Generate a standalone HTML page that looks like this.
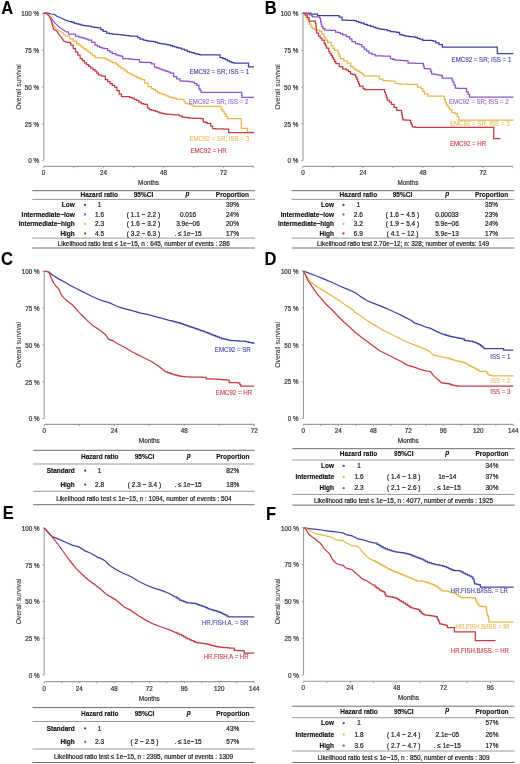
<!DOCTYPE html>
<html><head><meta charset="utf-8"><style>
html,body{margin:0;padding:0;background:#fff;}
body{width:520px;height:764px;overflow:hidden;}
svg{display:block;font-family:"Liberation Sans", sans-serif;filter:blur(0.3px);}
</style></head><body>
<svg width="520" height="764" viewBox="0 0 520 764">
<rect width="520" height="764" fill="#fff"/>
<text x="0" y="0" font-size="17.9" font-weight="bold" fill="#000" stroke="#000" stroke-width="0.1" transform="translate(1.30,13.60) scale(0.92,1)">A</text>
<line x1="43.75" y1="13.60" x2="43.75" y2="160.60" stroke="#9c9c9c" stroke-width="1.1"/>
<line x1="41.80" y1="13.60" x2="43.60" y2="13.60" stroke="#9c9c9c" stroke-width="0.9"/>
<text x="0" y="0" transform="translate(39.00,16.40) scale(1,1.12)" font-size="6.3" text-anchor="end" font-weight="normal" font-style="normal" fill="#3a3a3a" stroke="#3a3a3a" stroke-width="0.22" >100 %</text>
<line x1="41.80" y1="50.35" x2="43.60" y2="50.35" stroke="#9c9c9c" stroke-width="0.9"/>
<text x="0" y="0" transform="translate(39.00,53.15) scale(1,1.12)" font-size="6.3" text-anchor="end" font-weight="normal" font-style="normal" fill="#3a3a3a" stroke="#3a3a3a" stroke-width="0.22" >75 %</text>
<line x1="41.80" y1="87.10" x2="43.60" y2="87.10" stroke="#9c9c9c" stroke-width="0.9"/>
<text x="0" y="0" transform="translate(39.00,89.90) scale(1,1.12)" font-size="6.3" text-anchor="end" font-weight="normal" font-style="normal" fill="#3a3a3a" stroke="#3a3a3a" stroke-width="0.22" >50 %</text>
<line x1="41.80" y1="123.85" x2="43.60" y2="123.85" stroke="#9c9c9c" stroke-width="0.9"/>
<text x="0" y="0" transform="translate(39.00,126.65) scale(1,1.12)" font-size="6.3" text-anchor="end" font-weight="normal" font-style="normal" fill="#3a3a3a" stroke="#3a3a3a" stroke-width="0.22" >25 %</text>
<line x1="41.80" y1="160.60" x2="43.60" y2="160.60" stroke="#9c9c9c" stroke-width="0.9"/>
<text x="0" y="0" transform="translate(39.00,163.40) scale(1,1.12)" font-size="6.3" text-anchor="end" font-weight="normal" font-style="normal" fill="#3a3a3a" stroke="#3a3a3a" stroke-width="0.22" >0 %</text>
<text x="0" y="0" font-size="6.7" text-anchor="middle" fill="#3a3a3a" stroke="#3a3a3a" stroke-width="0.1" transform="translate(20.70,87.00) rotate(-90)">Overall survival</text>
<line x1="43.60" y1="166.40" x2="253.60" y2="166.40" stroke="#9c9c9c" stroke-width="1.1"/>
<line x1="43.60" y1="166.40" x2="43.60" y2="168.20" stroke="#9c9c9c" stroke-width="0.9"/>
<text x="0" y="0" transform="translate(43.60,175.40) scale(1,1.12)" font-size="6.3" text-anchor="middle" font-weight="normal" font-style="normal" fill="#3a3a3a" stroke="#3a3a3a" stroke-width="0.22" >0</text>
<line x1="73.60" y1="166.40" x2="73.60" y2="168.20" stroke="#9c9c9c" stroke-width="0.9"/>
<line x1="103.60" y1="166.40" x2="103.60" y2="168.20" stroke="#9c9c9c" stroke-width="0.9"/>
<text x="0" y="0" transform="translate(103.60,175.40) scale(1,1.12)" font-size="6.3" text-anchor="middle" font-weight="normal" font-style="normal" fill="#3a3a3a" stroke="#3a3a3a" stroke-width="0.22" >24</text>
<line x1="133.60" y1="166.40" x2="133.60" y2="168.20" stroke="#9c9c9c" stroke-width="0.9"/>
<line x1="163.60" y1="166.40" x2="163.60" y2="168.20" stroke="#9c9c9c" stroke-width="0.9"/>
<text x="0" y="0" transform="translate(163.60,175.40) scale(1,1.12)" font-size="6.3" text-anchor="middle" font-weight="normal" font-style="normal" fill="#3a3a3a" stroke="#3a3a3a" stroke-width="0.22" >48</text>
<line x1="193.60" y1="166.40" x2="193.60" y2="168.20" stroke="#9c9c9c" stroke-width="0.9"/>
<line x1="223.60" y1="166.40" x2="223.60" y2="168.20" stroke="#9c9c9c" stroke-width="0.9"/>
<text x="0" y="0" transform="translate(223.60,175.40) scale(1,1.12)" font-size="6.3" text-anchor="middle" font-weight="normal" font-style="normal" fill="#3a3a3a" stroke="#3a3a3a" stroke-width="0.22" >72</text>
<line x1="253.60" y1="166.40" x2="253.60" y2="168.20" stroke="#9c9c9c" stroke-width="0.9"/>
<text x="0" y="0" transform="translate(148.60,185.34) scale(1,1.12)" font-size="6.4" text-anchor="middle" font-weight="normal" font-style="normal" fill="#3a3a3a" stroke="#3a3a3a" stroke-width="0.22" >Months</text>
<path d="M43.60,13.20 L47.80,13.20 L51.20,14.00 L54.70,14.60 L57.00,16.30 L60.50,17.80 L65.10,19.80 L69.70,21.50 L72.00,21.50 L72.00,22.40 L74.30,22.40 L74.30,23.30 L76.60,23.30 L76.60,23.85 L78.90,23.85 L78.90,24.40 L81.20,24.40 L81.20,25.00 L83.50,25.00 L83.50,25.60 L85.85,25.60 L85.85,25.90 L88.20,25.90 L88.20,26.20 L91.05,26.20 L91.05,26.75 L93.90,26.75 L93.90,27.30 L96.20,27.30 L96.20,27.60 L98.50,27.60 L98.50,27.90 L100.80,27.90 L100.80,29.60 L103.10,29.60 L103.10,31.30 L106.50,31.30 L106.50,33.10 L109.40,33.10 L109.40,33.55 L112.30,33.55 L112.30,34.00 L115.20,34.00 L115.20,34.25 L118.10,34.25 L118.10,34.50 L120.95,34.50 L120.95,34.95 L123.80,34.95 L123.80,35.40 L126.70,35.40 L126.70,35.70 L129.60,35.70 L129.60,36.00 L135.40,36.00 L137.70,36.00 L137.70,37.70 L140.00,37.70 L140.00,39.10 L143.50,39.10 L143.50,40.00 L145.80,40.00 L145.80,40.60 L148.10,40.60 L148.10,41.20 L150.80,41.20 L150.80,41.45 L153.50,41.45 L153.50,41.70 L155.60,41.70 L155.60,42.45 L157.70,42.45 L157.70,43.20 L159.80,43.20 L159.80,43.50 L161.90,43.50 L161.90,43.80 L164.03,43.80 L164.03,44.17 L166.17,44.17 L166.17,44.53 L168.30,44.53 L168.30,44.90 L170.40,44.90 L170.40,45.65 L172.50,45.65 L172.50,46.40 L174.60,46.40 L174.60,46.97 L176.70,46.97 L176.70,47.53 L178.80,47.53 L178.80,48.10 L181.63,48.10 L181.63,49.17 L184.47,49.17 L184.47,50.23 L187.30,50.23 L187.30,51.30 L189.43,51.30 L189.43,52.00 L191.57,52.00 L191.57,52.70 L193.70,52.70 L193.70,53.40 L195.80,53.40 L195.80,53.87 L197.90,53.87 L197.90,54.33 L200.00,54.33 L200.00,54.80 L216.90,54.80 L220.10,54.80 L220.10,57.60 L222.75,57.60 L222.75,58.65 L225.40,58.65 L225.40,59.70 L227.50,59.70 L227.50,60.75 L229.60,60.75 L229.60,61.80 L231.75,61.80 L231.75,62.50 L233.90,62.50 L233.90,63.20 L247.50,63.20 L248.50,63.20 L248.50,66.90 L253.90,66.90" fill="none" stroke="#4242a6" stroke-width="1.25" stroke-linejoin="miter"/>
<path d="M43.60,13.20 L46.60,13.20 L49.50,16.00 L51.50,18.50 L53.00,20.70 L55.00,23.20 L59.30,27.30 L62.80,29.60 L66.20,31.90 L68.50,31.90 L68.50,34.00 L70.85,34.00 L70.85,34.10 L73.20,34.10 L73.20,34.20 L75.50,34.20 L75.50,36.00 L78.90,36.00 L78.90,37.10 L81.20,37.10 L81.20,37.70 L83.50,37.70 L83.50,38.30 L85.85,38.30 L85.85,39.15 L88.20,39.15 L88.20,40.00 L91.60,40.00 L91.60,42.30 L95.10,42.30 L95.10,45.20 L97.35,45.20 L97.35,46.25 L99.60,46.25 L99.60,47.30 L101.90,47.30 L101.90,48.00 L104.20,48.00 L104.20,48.70 L107.70,48.70 L107.70,50.60 L110.00,50.60 L110.00,52.10 L112.30,52.10 L112.30,53.60 L115.80,53.60 L115.80,54.80 L118.10,54.80 L118.10,55.50 L120.40,55.50 L120.40,56.20 L122.70,56.20 L122.70,58.50 L125.00,58.50 L125.00,58.60 L127.30,58.60 L127.30,58.70 L129.60,58.70 L129.60,59.05 L131.90,59.05 L131.90,59.40 L134.20,59.40 L134.20,59.50 L136.50,59.50 L136.50,59.60 L139.40,59.60 L139.40,62.20 L141.85,62.20 L141.85,62.28 L144.30,62.28 L144.30,62.35 L146.75,62.35 L146.75,62.42 L149.20,62.42 L149.20,62.50 L151.50,62.50 L151.50,63.80 L154.50,63.80 L154.50,67.00 L157.15,67.00 L157.15,68.10 L159.80,68.10 L159.80,69.20 L161.93,69.20 L161.93,69.90 L164.07,69.90 L164.07,70.60 L166.20,70.60 L166.20,71.30 L168.30,71.30 L168.30,72.15 L170.40,72.15 L170.40,73.00 L173.60,73.00 L173.60,76.60 L176.70,76.60 L176.70,78.80 L179.90,78.80 L179.90,80.90 L182.00,80.90 L182.00,81.00 L184.10,81.00 L184.10,81.10 L186.93,81.10 L186.93,81.43 L189.77,81.43 L189.77,81.77 L192.60,81.77 L192.60,82.10 L194.70,82.10 L194.70,83.70 L196.80,83.70 L196.80,85.30 L198.90,85.30 L198.90,88.50 L200.00,88.50 L200.00,90.40 L201.10,90.40 L201.10,92.30 L241.50,92.30 L241.75,92.30 L241.75,94.80 L242.00,94.80 L242.00,97.30 L254.00,97.30" fill="none" stroke="#8f54cc" stroke-width="1.25" stroke-linejoin="miter"/>
<path d="M43.60,13.20 L47.80,14.00 L50.10,16.90 L51.80,21.50 L53.50,25.00 L55.80,28.50 L59.30,30.80 L62.80,33.10 L66.20,36.00 L69.70,36.00 L69.70,38.80 L73.20,38.80 L73.20,41.20 L76.60,41.20 L76.60,43.50 L78.90,43.50 L78.90,45.20 L81.20,45.20 L81.20,46.90 L83.50,46.90 L83.50,48.65 L85.80,48.65 L85.80,50.40 L88.15,50.40 L88.15,52.10 L90.50,52.10 L90.50,53.80 L92.50,53.80 L92.50,55.50 L95.00,55.50 L95.00,57.60 L97.70,57.60 L97.70,57.70 L100.40,57.70 L100.40,57.80 L103.10,57.80 L103.10,57.90 L105.40,57.90 L105.40,59.05 L107.70,59.05 L107.70,60.20 L110.00,60.20 L110.00,61.35 L112.30,61.35 L112.30,62.50 L115.80,62.50 L115.80,64.00 L118.10,64.00 L118.10,66.30 L120.40,66.30 L120.40,67.75 L122.70,67.75 L122.70,69.20 L125.00,69.20 L125.00,70.85 L127.30,70.85 L127.30,72.50 L129.60,72.50 L129.60,73.75 L131.90,73.75 L131.90,75.00 L134.20,75.00 L134.20,76.15 L136.50,76.15 L136.50,77.30 L138.85,77.30 L138.85,78.45 L141.20,78.45 L141.20,79.60 L144.60,79.60 L144.60,83.10 L148.10,83.10 L148.10,86.50 L151.50,86.50 L151.50,88.50 L153.50,88.50 L153.50,89.50 L155.60,89.50 L155.60,91.10 L157.70,91.10 L157.70,92.70 L159.80,92.70 L159.80,93.40 L161.90,93.40 L161.90,94.10 L164.00,94.10 L164.00,94.80 L166.15,94.80 L166.15,95.85 L168.30,95.85 L168.30,96.90 L171.10,96.90 L171.10,97.60 L173.90,97.60 L173.90,98.30 L176.70,98.30 L176.70,99.00 L178.83,99.00 L178.83,99.17 L180.97,99.17 L180.97,99.33 L183.10,99.33 L183.10,99.50 L184.15,99.50 L184.15,101.40 L185.20,101.40 L185.20,103.30 L187.30,103.30 L187.30,103.87 L189.40,103.87 L189.40,104.43 L191.50,104.43 L191.50,105.00 L193.70,105.00 L193.70,106.40 L219.00,106.40 L221.20,106.40 L221.20,109.60 L222.75,109.60 L222.75,111.70 L224.30,111.70 L224.30,113.80 L225.90,113.80 L225.90,116.25 L227.50,116.25 L227.50,118.70 L238.10,118.70 L241.30,118.70 L241.30,122.30 L241.30,128.30 L247.50,128.30 L247.50,132.30 L254.00,132.30" fill="none" stroke="#e6b84a" stroke-width="1.25" stroke-linejoin="miter"/>
<path d="M43.60,13.20 L46.60,13.50 L48.90,15.80 L51.20,20.40 L52.40,25.00 L53.50,29.00 L57.00,31.30 L59.30,34.80 L61.60,37.70 L63.90,41.20 L67.40,42.30 L69.70,42.30 L69.70,42.90 L70.80,42.90 L70.80,45.20 L73.20,45.20 L73.20,48.70 L75.50,48.70 L75.50,52.10 L77.80,52.10 L77.80,55.00 L80.10,55.00 L80.10,58.50 L82.25,58.50 L82.25,60.70 L84.40,60.70 L84.40,62.90 L86.53,62.90 L86.53,64.67 L88.67,64.67 L88.67,66.43 L90.80,66.43 L90.80,68.20 L92.90,68.20 L92.90,69.60 L95.00,69.60 L95.00,71.00 L96.75,71.00 L96.75,73.00 L98.50,73.00 L98.50,75.00 L101.90,75.00 L101.90,76.20 L105.40,76.20 L105.40,79.60 L107.70,79.60 L107.70,81.65 L110.00,81.65 L110.00,83.70 L112.30,83.70 L112.30,85.40 L114.60,85.40 L114.60,87.10 L116.90,87.10 L116.90,90.60 L119.20,90.60 L119.20,94.00 L121.50,94.00 L121.50,96.50 L124.40,96.50 L124.40,96.60 L127.30,96.60 L127.30,96.70 L129.60,96.70 L129.60,97.40 L131.90,97.40 L131.90,98.10 L134.20,98.10 L134.20,99.25 L136.50,99.25 L136.50,100.40 L138.85,100.40 L138.85,102.00 L141.20,102.00 L141.20,103.60 L143.50,103.60 L143.50,104.00 L145.80,104.00 L145.80,104.40 L147.50,104.40 L147.50,107.90 L149.20,107.90 L149.20,109.60 L151.35,109.60 L151.35,110.15 L153.50,110.15 L153.50,110.70 L155.60,110.70 L155.60,111.40 L157.70,111.40 L157.70,112.10 L159.80,112.10 L159.80,112.80 L161.93,112.80 L161.93,113.30 L164.07,113.30 L164.07,113.80 L166.20,113.80 L166.20,114.30 L168.82,114.30 L168.82,114.45 L171.45,114.45 L171.45,114.60 L174.07,114.60 L174.07,114.75 L176.70,114.75 L176.70,114.90 L179.35,114.90 L179.35,115.95 L182.00,115.95 L182.00,117.00 L184.47,117.00 L184.47,117.37 L186.93,117.37 L186.93,117.73 L189.40,117.73 L189.40,118.10 L191.74,118.10 L191.74,118.18 L194.08,118.18 L194.08,118.26 L196.42,118.26 L196.42,118.34 L198.76,118.34 L198.76,118.42 L201.10,118.42 L201.10,118.50 L203.20,118.50 L203.20,121.90 L205.30,121.90 L205.30,122.65 L207.40,122.65 L207.40,123.40 L210.60,123.40 L210.60,126.10 L212.70,126.10 L212.70,128.70 L215.44,128.70 L215.44,128.78 L218.18,128.78 L218.18,128.86 L220.92,128.86 L220.92,128.94 L223.66,128.94 L223.66,129.02 L226.40,129.02 L226.40,129.10 L228.60,129.10 L228.60,132.70 L254.00,132.70" fill="none" stroke="#c63c46" stroke-width="1.25" stroke-linejoin="miter"/>
<text x="0" y="0" transform="translate(189.40,74.44) scale(1,1.12)" font-size="6.15" text-anchor="start" font-weight="normal" font-style="normal" fill="#4848a8" stroke="#4848a8" stroke-width="0.12" >EMC92 = SR; ISS = 1</text>
<text x="0" y="0" transform="translate(188.70,104.04) scale(1,1.12)" font-size="6.15" text-anchor="start" font-weight="normal" font-style="normal" fill="#9a66d4" stroke="#9a66d4" stroke-width="0.12" >EMC92 = SR; ISS = 2</text>
<text x="0" y="0" transform="translate(189.40,141.24) scale(1,1.12)" font-size="6.15" text-anchor="start" font-weight="normal" font-style="normal" fill="#e6bc5c" stroke="#e6bc5c" stroke-width="0.12" >EMC92 = SR; ISS = 3</text>
<text x="0" y="0" transform="translate(190.40,152.84) scale(1,1.12)" font-size="6.15" text-anchor="start" font-weight="normal" font-style="normal" fill="#c84450" stroke="#c84450" stroke-width="0.12" >EMC92 = HR</text>
<line x1="32.30" y1="190.70" x2="255.10" y2="190.70" stroke="#6e6e6e" stroke-width="1"/>
<line x1="32.30" y1="199.40" x2="255.10" y2="199.40" stroke="#9a9a9a" stroke-width="1"/>
<line x1="32.30" y1="238.10" x2="255.10" y2="238.10" stroke="#9a9a9a" stroke-width="1"/>
<line x1="32.30" y1="248.00" x2="255.10" y2="248.00" stroke="#6e6e6e" stroke-width="1"/>
<text x="0" y="0" transform="translate(80.50,197.18) scale(1,1.12)" font-size="6.5" text-anchor="start" font-weight="bold" font-style="normal" fill="#111" stroke="#111" stroke-width="0.12" >Hazard ratio</text>
<text x="0" y="0" transform="translate(143.50,197.18) scale(1,1.12)" font-size="6.5" text-anchor="middle" font-weight="bold" font-style="normal" fill="#111" stroke="#111" stroke-width="0.12" >95%CI</text>
<text x="0" y="0" transform="translate(187.50,195.88) scale(1,1.12)" font-size="6.5" text-anchor="middle" font-weight="bold" font-style="italic" fill="#111" stroke="#111" stroke-width="0.12" >p</text>
<text x="0" y="0" transform="translate(232.40,197.18) scale(1,1.12)" font-size="6.5" text-anchor="middle" font-weight="bold" font-style="normal" fill="#111" stroke="#111" stroke-width="0.12" >Proportion</text>
<text x="0" y="0" transform="translate(74.80,207.28) scale(1,1.12)" font-size="6.5" text-anchor="end" font-weight="bold" font-style="normal" fill="#111" stroke="#111" stroke-width="0.14" >Low</text>
<circle cx="85.10" cy="205.00" r="1.15" fill="#4242a6"/>
<text x="0" y="0" transform="translate(99.60,207.28) scale(1,1.12)" font-size="6.5" text-anchor="middle" font-weight="normal" font-style="normal" fill="#222" stroke="#222" stroke-width="0.2" >1</text>
<text x="0" y="0" transform="translate(232.40,207.28) scale(1,1.12)" font-size="6.5" text-anchor="middle" font-weight="normal" font-style="normal" fill="#222" stroke="#222" stroke-width="0.2" >39%</text>
<text x="0" y="0" transform="translate(74.80,216.78) scale(1,1.12)" font-size="6.5" text-anchor="end" font-weight="bold" font-style="normal" fill="#111" stroke="#111" stroke-width="0.14" >Intermediate−low</text>
<circle cx="85.10" cy="214.50" r="1.15" fill="#8f54cc"/>
<text x="0" y="0" transform="translate(99.60,216.78) scale(1,1.12)" font-size="6.5" text-anchor="middle" font-weight="normal" font-style="normal" fill="#222" stroke="#222" stroke-width="0.2" >1.6</text>
<text x="0" y="0" transform="translate(143.50,216.78) scale(1,1.12)" font-size="6.5" text-anchor="middle" font-weight="normal" font-style="normal" fill="#222" stroke="#222" stroke-width="0.2" >( 1.1 − 2.2 )</text>
<text x="0" y="0" transform="translate(188.00,216.78) scale(1,1.12)" font-size="6.5" text-anchor="middle" font-weight="normal" font-style="normal" fill="#222" stroke="#222" stroke-width="0.2" >0.016</text>
<text x="0" y="0" transform="translate(232.40,216.78) scale(1,1.12)" font-size="6.5" text-anchor="middle" font-weight="normal" font-style="normal" fill="#222" stroke="#222" stroke-width="0.2" >24%</text>
<text x="0" y="0" transform="translate(74.80,226.28) scale(1,1.12)" font-size="6.5" text-anchor="end" font-weight="bold" font-style="normal" fill="#111" stroke="#111" stroke-width="0.14" >Intermediate−high</text>
<circle cx="85.10" cy="224.00" r="1.15" fill="#e6b84a"/>
<text x="0" y="0" transform="translate(99.60,226.28) scale(1,1.12)" font-size="6.5" text-anchor="middle" font-weight="normal" font-style="normal" fill="#222" stroke="#222" stroke-width="0.2" >2.3</text>
<text x="0" y="0" transform="translate(143.50,226.28) scale(1,1.12)" font-size="6.5" text-anchor="middle" font-weight="normal" font-style="normal" fill="#222" stroke="#222" stroke-width="0.2" >( 1.6 − 3.2 )</text>
<text x="0" y="0" transform="translate(188.00,226.28) scale(1,1.12)" font-size="6.5" text-anchor="middle" font-weight="normal" font-style="normal" fill="#222" stroke="#222" stroke-width="0.2" >3.9e−06</text>
<text x="0" y="0" transform="translate(232.40,226.28) scale(1,1.12)" font-size="6.5" text-anchor="middle" font-weight="normal" font-style="normal" fill="#222" stroke="#222" stroke-width="0.2" >20%</text>
<text x="0" y="0" transform="translate(74.80,235.78) scale(1,1.12)" font-size="6.5" text-anchor="end" font-weight="bold" font-style="normal" fill="#111" stroke="#111" stroke-width="0.14" >High</text>
<circle cx="85.10" cy="233.50" r="1.15" fill="#c63c46"/>
<text x="0" y="0" transform="translate(99.60,235.78) scale(1,1.12)" font-size="6.5" text-anchor="middle" font-weight="normal" font-style="normal" fill="#222" stroke="#222" stroke-width="0.2" >4.5</text>
<text x="0" y="0" transform="translate(143.50,235.78) scale(1,1.12)" font-size="6.5" text-anchor="middle" font-weight="normal" font-style="normal" fill="#222" stroke="#222" stroke-width="0.2" >( 3.2 − 6.3 )</text>
<text x="0" y="0" transform="translate(188.00,235.78) scale(1,1.12)" font-size="6.5" text-anchor="middle" font-weight="normal" font-style="normal" fill="#222" stroke="#222" stroke-width="0.2" >. ≤ 1e−15</text>
<text x="0" y="0" transform="translate(232.40,235.78) scale(1,1.12)" font-size="6.5" text-anchor="middle" font-weight="normal" font-style="normal" fill="#222" stroke="#222" stroke-width="0.2" >17%</text>
<text x="0" y="0" transform="translate(143.70,245.74) scale(1,1.12)" font-size="6.4" text-anchor="middle" font-weight="normal" font-style="normal" fill="#222" stroke="#222" stroke-width="0.2" >Likelihood ratio test ≤ 1e−15, n : 645, number of events : 286</text>
<text x="0" y="0" font-size="17.9" font-weight="bold" fill="#000" stroke="#000" stroke-width="0.1" transform="translate(264.70,13.50) scale(0.92,1)">B</text>
<line x1="303.05" y1="13.60" x2="303.05" y2="160.60" stroke="#9c9c9c" stroke-width="1.1"/>
<line x1="301.10" y1="13.60" x2="302.90" y2="13.60" stroke="#9c9c9c" stroke-width="0.9"/>
<text x="0" y="0" transform="translate(298.30,16.40) scale(1,1.12)" font-size="6.3" text-anchor="end" font-weight="normal" font-style="normal" fill="#3a3a3a" stroke="#3a3a3a" stroke-width="0.22" >100 %</text>
<line x1="301.10" y1="50.35" x2="302.90" y2="50.35" stroke="#9c9c9c" stroke-width="0.9"/>
<text x="0" y="0" transform="translate(298.30,53.15) scale(1,1.12)" font-size="6.3" text-anchor="end" font-weight="normal" font-style="normal" fill="#3a3a3a" stroke="#3a3a3a" stroke-width="0.22" >75 %</text>
<line x1="301.10" y1="87.10" x2="302.90" y2="87.10" stroke="#9c9c9c" stroke-width="0.9"/>
<text x="0" y="0" transform="translate(298.30,89.90) scale(1,1.12)" font-size="6.3" text-anchor="end" font-weight="normal" font-style="normal" fill="#3a3a3a" stroke="#3a3a3a" stroke-width="0.22" >50 %</text>
<line x1="301.10" y1="123.85" x2="302.90" y2="123.85" stroke="#9c9c9c" stroke-width="0.9"/>
<text x="0" y="0" transform="translate(298.30,126.65) scale(1,1.12)" font-size="6.3" text-anchor="end" font-weight="normal" font-style="normal" fill="#3a3a3a" stroke="#3a3a3a" stroke-width="0.22" >25 %</text>
<line x1="301.10" y1="160.60" x2="302.90" y2="160.60" stroke="#9c9c9c" stroke-width="0.9"/>
<text x="0" y="0" transform="translate(298.30,163.40) scale(1,1.12)" font-size="6.3" text-anchor="end" font-weight="normal" font-style="normal" fill="#3a3a3a" stroke="#3a3a3a" stroke-width="0.22" >0 %</text>
<text x="0" y="0" font-size="6.7" text-anchor="middle" fill="#3a3a3a" stroke="#3a3a3a" stroke-width="0.1" transform="translate(280.00,87.00) rotate(-90)">Overall survival</text>
<line x1="302.90" y1="166.40" x2="512.90" y2="166.40" stroke="#9c9c9c" stroke-width="1.1"/>
<line x1="302.90" y1="166.40" x2="302.90" y2="168.20" stroke="#9c9c9c" stroke-width="0.9"/>
<text x="0" y="0" transform="translate(302.90,175.40) scale(1,1.12)" font-size="6.3" text-anchor="middle" font-weight="normal" font-style="normal" fill="#3a3a3a" stroke="#3a3a3a" stroke-width="0.22" >0</text>
<line x1="332.90" y1="166.40" x2="332.90" y2="168.20" stroke="#9c9c9c" stroke-width="0.9"/>
<line x1="362.90" y1="166.40" x2="362.90" y2="168.20" stroke="#9c9c9c" stroke-width="0.9"/>
<text x="0" y="0" transform="translate(362.90,175.40) scale(1,1.12)" font-size="6.3" text-anchor="middle" font-weight="normal" font-style="normal" fill="#3a3a3a" stroke="#3a3a3a" stroke-width="0.22" >24</text>
<line x1="392.90" y1="166.40" x2="392.90" y2="168.20" stroke="#9c9c9c" stroke-width="0.9"/>
<line x1="422.90" y1="166.40" x2="422.90" y2="168.20" stroke="#9c9c9c" stroke-width="0.9"/>
<text x="0" y="0" transform="translate(422.90,175.40) scale(1,1.12)" font-size="6.3" text-anchor="middle" font-weight="normal" font-style="normal" fill="#3a3a3a" stroke="#3a3a3a" stroke-width="0.22" >48</text>
<line x1="452.90" y1="166.40" x2="452.90" y2="168.20" stroke="#9c9c9c" stroke-width="0.9"/>
<line x1="482.90" y1="166.40" x2="482.90" y2="168.20" stroke="#9c9c9c" stroke-width="0.9"/>
<text x="0" y="0" transform="translate(482.90,175.40) scale(1,1.12)" font-size="6.3" text-anchor="middle" font-weight="normal" font-style="normal" fill="#3a3a3a" stroke="#3a3a3a" stroke-width="0.22" >72</text>
<line x1="512.90" y1="166.40" x2="512.90" y2="168.20" stroke="#9c9c9c" stroke-width="0.9"/>
<text x="0" y="0" transform="translate(407.90,185.34) scale(1,1.12)" font-size="6.4" text-anchor="middle" font-weight="normal" font-style="normal" fill="#3a3a3a" stroke="#3a3a3a" stroke-width="0.22" >Months</text>
<path d="M302.90,13.20 L309.70,13.20 L310.80,13.20 L310.80,14.20 L316.60,14.20 L317.70,14.20 L317.70,15.50 L337.30,15.50 L339.10,15.50 L339.10,17.20 L342.00,17.20 L342.00,20.10 L344.42,20.10 L344.42,20.18 L346.84,20.18 L346.84,20.26 L349.26,20.26 L349.26,20.34 L351.68,20.34 L351.68,20.42 L354.10,20.42 L354.10,20.50 L356.40,20.50 L356.40,21.60 L358.70,21.60 L358.70,22.40 L361.20,22.40 L361.20,23.10 L364.25,23.10 L364.25,24.25 L367.30,24.25 L367.30,25.40 L370.40,25.40 L370.40,26.30 L373.50,26.30 L373.50,27.20 L375.80,27.20 L375.80,28.00 L378.10,28.00 L378.10,28.80 L381.15,28.80 L381.15,29.25 L384.20,29.25 L384.20,29.70 L387.30,29.70 L387.30,30.60 L390.40,30.60 L390.40,31.50 L393.45,31.50 L393.45,31.90 L396.50,31.90 L396.50,32.30 L399.60,32.30 L399.60,34.60 L401.90,34.60 L401.90,35.20 L404.20,35.20 L404.20,35.80 L406.50,35.80 L406.50,36.15 L408.80,36.15 L408.80,36.50 L411.90,36.50 L411.90,36.95 L415.00,36.95 L415.00,37.40 L417.30,37.40 L417.30,38.30 L419.60,38.30 L419.60,39.20 L422.70,39.20 L422.70,40.30 L425.00,40.30 L425.00,40.35 L427.30,40.35 L427.30,40.40 L429.60,40.40 L429.60,40.45 L431.90,40.45 L431.90,40.50 L433.30,40.50 L433.30,41.20 L435.70,41.20 L435.70,42.90 L439.00,42.90 L439.00,44.50 L442.30,44.50 L442.30,47.00 L497.30,47.00 L497.30,53.50 L513.40,53.50" fill="none" stroke="#4242a6" stroke-width="1.25" stroke-linejoin="miter"/>
<path d="M302.90,13.20 L306.80,13.50 L309.10,13.50 L309.10,14.65 L311.40,14.65 L311.40,15.80 L312.50,15.80 L312.50,16.90 L317.20,16.90 L319.50,16.90 L319.50,18.10 L320.60,18.10 L320.60,21.50 L321.20,21.50 L321.20,24.10 L321.80,24.10 L321.80,26.70 L322.90,26.70 L322.90,28.50 L324.70,28.50 L324.70,30.00 L327.57,30.00 L327.57,30.13 L330.43,30.13 L330.43,30.27 L333.30,30.27 L333.30,30.40 L335.60,30.40 L335.60,32.20 L338.10,32.20 L338.10,32.50 L340.40,32.50 L340.40,33.65 L342.70,33.65 L342.70,34.80 L346.20,34.80 L346.20,36.50 L349.60,36.50 L349.60,38.80 L351.90,38.80 L351.90,41.70 L355.40,41.70 L355.40,43.50 L357.50,43.50 L357.50,44.05 L359.60,44.05 L359.60,44.60 L361.90,44.60 L361.90,46.90 L364.20,46.90 L364.20,49.20 L366.50,49.20 L366.50,51.15 L368.80,51.15 L368.80,53.10 L371.90,53.10 L371.90,54.45 L375.00,54.45 L375.00,55.80 L377.46,55.80 L377.46,55.88 L379.92,55.88 L379.92,55.96 L382.38,55.96 L382.38,56.04 L384.84,56.04 L384.84,56.12 L387.30,56.12 L387.30,56.20 L390.40,56.20 L390.40,58.50 L392.70,58.50 L392.70,59.25 L395.00,59.25 L395.00,60.00 L397.70,60.00 L397.70,60.20 L400.40,60.20 L400.40,60.40 L403.10,60.40 L403.10,60.60 L405.80,60.60 L405.80,60.80 L408.10,60.80 L408.10,63.10 L410.53,63.10 L410.53,63.17 L412.97,63.17 L412.97,63.23 L415.40,63.23 L415.40,63.30 L417.83,63.30 L417.83,63.37 L420.27,63.37 L420.27,63.43 L422.70,63.43 L422.70,63.50 L423.45,63.50 L423.45,66.00 L424.20,66.00 L424.20,68.50 L427.10,68.50 L427.10,68.85 L430.00,68.85 L430.00,69.20 L430.80,69.20 L430.80,71.55 L431.60,71.55 L431.60,73.90 L434.05,73.90 L434.05,74.33 L436.50,74.33 L436.50,74.75 L438.95,74.75 L438.95,75.17 L441.40,75.17 L441.40,75.60 L442.30,75.60 L442.30,78.00 L451.20,78.00 L452.05,78.00 L452.05,80.05 L452.90,80.05 L452.90,82.10 L454.10,82.10 L454.10,85.15 L455.30,85.15 L455.30,88.20 L457.52,88.20 L457.52,88.25 L459.75,88.25 L459.75,88.30 L461.98,88.30 L461.98,88.35 L464.20,88.35 L464.20,88.40 L466.50,88.40 L466.50,91.90 L468.05,91.90 L468.05,94.45 L469.60,94.45 L469.60,97.00 L513.50,97.00" fill="none" stroke="#8f54cc" stroke-width="1.25" stroke-linejoin="miter"/>
<path d="M302.90,13.20 L304.50,15.00 L305.75,15.00 L305.75,17.00 L307.00,17.00 L307.00,19.00 L308.25,19.00 L308.25,21.50 L309.50,21.50 L309.50,24.00 L311.00,24.00 L311.00,27.00 L312.50,27.00 L312.50,28.50 L314.50,28.50 L314.50,29.50 L316.70,29.50 L316.70,30.20 L319.60,30.20 L319.60,31.30 L321.90,31.30 L321.90,34.20 L324.20,34.20 L324.20,37.70 L325.95,37.70 L325.95,40.00 L327.70,40.00 L327.70,42.30 L331.20,42.30 L331.20,45.80 L332.90,45.80 L332.90,48.10 L334.60,48.10 L334.60,50.40 L338.10,50.40 L338.10,53.80 L339.25,53.80 L339.25,56.15 L340.40,56.15 L340.40,58.50 L343.80,58.50 L343.80,60.80 L347.30,60.80 L347.30,63.10 L350.80,63.10 L350.80,66.50 L353.50,66.50 L353.50,68.80 L355.65,68.80 L355.65,70.10 L357.80,70.10 L357.80,71.40 L359.95,71.40 L359.95,72.70 L362.10,72.70 L362.10,74.00 L363.80,74.00 L363.80,75.80 L366.40,75.80 L366.40,75.86 L369.00,75.86 L369.00,75.92 L371.60,75.92 L371.60,75.98 L374.20,75.98 L374.20,76.04 L376.80,76.04 L376.80,76.10 L379.40,76.10 L379.40,79.20 L382.90,79.20 L382.90,80.60 L385.77,80.60 L385.77,80.73 L388.63,80.73 L388.63,80.87 L391.50,80.87 L391.50,81.00 L395.00,81.00 L395.00,83.00 L397.60,83.00 L397.60,83.55 L400.20,83.55 L400.20,84.10 L402.50,84.10 L402.50,84.15 L404.80,84.15 L404.80,84.20 L407.10,84.20 L407.10,84.25 L409.40,84.25 L409.40,84.30 L411.70,84.30 L411.70,84.35 L414.00,84.35 L414.00,84.40 L417.50,84.40 L417.50,87.00 L421.00,87.00 L421.00,88.70 L422.70,88.70 L422.70,91.30 L424.40,91.30 L424.40,93.90 L427.90,93.90 L427.90,96.20 L441.90,96.20 L444.20,96.20 L444.20,99.60 L445.35,99.60 L445.35,102.30 L446.50,102.30 L446.50,105.00 L448.05,105.00 L448.05,107.30 L449.60,107.30 L449.60,109.60 L451.90,109.60 L451.90,112.70 L455.00,112.70 L455.00,113.50 L457.30,113.50 L457.30,116.50 L458.80,116.50 L458.80,120.10 L513.50,120.10" fill="none" stroke="#e6b84a" stroke-width="1.25" stroke-linejoin="miter"/>
<path d="M302.90,13.20 L304.50,13.50 L305.60,13.50 L305.60,15.20 L307.30,15.20 L307.30,17.50 L309.10,17.50 L309.10,21.00 L314.30,21.00 L315.40,21.00 L315.40,23.30 L316.00,23.30 L316.00,27.00 L316.35,27.00 L316.35,30.05 L316.70,30.05 L316.70,33.10 L318.50,33.10 L318.50,36.00 L320.20,36.00 L320.20,38.00 L321.90,38.00 L321.90,40.00 L324.20,40.00 L324.20,43.50 L325.35,43.50 L325.35,45.80 L326.50,45.80 L326.50,48.10 L328.80,48.10 L328.80,51.50 L330.00,51.50 L330.00,53.55 L331.20,53.55 L331.20,55.60 L332.35,55.60 L332.35,57.60 L333.50,57.60 L333.50,59.60 L334.65,59.60 L334.65,61.65 L335.80,61.65 L335.80,63.70 L339.20,63.70 L339.20,66.50 L342.70,66.50 L342.70,68.80 L346.20,68.80 L346.20,70.00 L348.50,70.00 L348.50,71.70 L350.50,71.70 L350.50,73.80 L352.40,73.80 L352.40,74.35 L354.30,74.35 L354.30,74.90 L355.60,74.90 L355.60,77.05 L356.90,77.05 L356.90,79.20 L357.77,79.20 L357.77,81.53 L358.63,81.53 L358.63,83.87 L359.50,83.87 L359.50,86.20 L363.00,86.20 L363.00,88.70 L364.70,88.70 L364.70,89.60 L383.70,89.60 L384.60,89.60 L384.60,92.20 L385.50,92.20 L385.50,94.80 L386.35,94.80 L386.35,97.40 L387.20,97.40 L387.20,100.00 L389.35,100.00 L389.35,102.15 L391.50,102.15 L391.50,104.30 L394.10,104.30 L394.10,107.35 L396.70,107.35 L396.70,110.40 L401.10,110.40 L401.53,110.40 L401.53,112.78 L401.95,112.78 L401.95,115.15 L402.38,115.15 L402.38,117.53 L402.80,117.53 L402.80,119.90 L405.10,119.90 L405.10,120.07 L407.40,120.07 L407.40,120.23 L409.70,120.23 L409.70,120.40 L410.57,120.40 L410.57,122.53 L411.43,122.53 L411.43,124.67 L412.30,124.67 L412.30,126.80 L415.00,126.80 L415.00,127.30 L493.70,127.30 L493.70,138.50 L500.40,138.50" fill="none" stroke="#c63c46" stroke-width="1.25" stroke-linejoin="miter"/>
<text x="0" y="0" transform="translate(451.60,61.64) scale(1,1.12)" font-size="6.15" text-anchor="start" font-weight="normal" font-style="normal" fill="#4848a8" stroke="#4848a8" stroke-width="0.12" >EMC92 = SR; ISS = 1</text>
<text x="0" y="0" transform="translate(449.00,103.54) scale(1,1.12)" font-size="6.15" text-anchor="start" font-weight="normal" font-style="normal" fill="#9a66d4" stroke="#9a66d4" stroke-width="0.12" >EMC92 = SR; ISS = 2</text>
<text x="0" y="0" transform="translate(449.90,126.04) scale(1,1.12)" font-size="6.15" text-anchor="start" font-weight="normal" font-style="normal" fill="#e6bc5c" stroke="#e6bc5c" stroke-width="0.12" >EMC92 = SR; ISS = 3</text>
<text x="0" y="0" transform="translate(449.90,146.44) scale(1,1.12)" font-size="6.15" text-anchor="start" font-weight="normal" font-style="normal" fill="#c84450" stroke="#c84450" stroke-width="0.12" >EMC92 = HR</text>
<line x1="291.60" y1="190.70" x2="514.40" y2="190.70" stroke="#6e6e6e" stroke-width="1"/>
<line x1="291.60" y1="199.40" x2="514.40" y2="199.40" stroke="#9a9a9a" stroke-width="1"/>
<line x1="291.60" y1="238.10" x2="514.40" y2="238.10" stroke="#9a9a9a" stroke-width="1"/>
<line x1="291.60" y1="248.00" x2="514.40" y2="248.00" stroke="#6e6e6e" stroke-width="1"/>
<text x="0" y="0" transform="translate(339.60,197.18) scale(1,1.12)" font-size="6.5" text-anchor="start" font-weight="bold" font-style="normal" fill="#111" stroke="#111" stroke-width="0.12" >Hazard ratio</text>
<text x="0" y="0" transform="translate(402.50,197.18) scale(1,1.12)" font-size="6.5" text-anchor="middle" font-weight="bold" font-style="normal" fill="#111" stroke="#111" stroke-width="0.12" >95%CI</text>
<text x="0" y="0" transform="translate(447.30,195.88) scale(1,1.12)" font-size="6.5" text-anchor="middle" font-weight="bold" font-style="italic" fill="#111" stroke="#111" stroke-width="0.12" >p</text>
<text x="0" y="0" transform="translate(491.60,197.18) scale(1,1.12)" font-size="6.5" text-anchor="middle" font-weight="bold" font-style="normal" fill="#111" stroke="#111" stroke-width="0.12" >Proportion</text>
<text x="0" y="0" transform="translate(334.00,207.28) scale(1,1.12)" font-size="6.5" text-anchor="end" font-weight="bold" font-style="normal" fill="#111" stroke="#111" stroke-width="0.14" >Low</text>
<circle cx="343.50" cy="205.00" r="1.15" fill="#4242a6"/>
<text x="0" y="0" transform="translate(358.30,207.28) scale(1,1.12)" font-size="6.5" text-anchor="middle" font-weight="normal" font-style="normal" fill="#222" stroke="#222" stroke-width="0.2" >1</text>
<text x="0" y="0" transform="translate(491.60,207.28) scale(1,1.12)" font-size="6.5" text-anchor="middle" font-weight="normal" font-style="normal" fill="#222" stroke="#222" stroke-width="0.2" >35%</text>
<text x="0" y="0" transform="translate(334.00,216.78) scale(1,1.12)" font-size="6.5" text-anchor="end" font-weight="bold" font-style="normal" fill="#111" stroke="#111" stroke-width="0.14" >Intermediate−low</text>
<circle cx="343.50" cy="214.50" r="1.15" fill="#8f54cc"/>
<text x="0" y="0" transform="translate(358.30,216.78) scale(1,1.12)" font-size="6.5" text-anchor="middle" font-weight="normal" font-style="normal" fill="#222" stroke="#222" stroke-width="0.2" >2.6</text>
<text x="0" y="0" transform="translate(402.50,216.78) scale(1,1.12)" font-size="6.5" text-anchor="middle" font-weight="normal" font-style="normal" fill="#222" stroke="#222" stroke-width="0.2" >( 1.6 − 4.5 )</text>
<text x="0" y="0" transform="translate(447.00,216.78) scale(1,1.12)" font-size="6.5" text-anchor="middle" font-weight="normal" font-style="normal" fill="#222" stroke="#222" stroke-width="0.2" >0.00033</text>
<text x="0" y="0" transform="translate(491.60,216.78) scale(1,1.12)" font-size="6.5" text-anchor="middle" font-weight="normal" font-style="normal" fill="#222" stroke="#222" stroke-width="0.2" >23%</text>
<text x="0" y="0" transform="translate(334.00,226.28) scale(1,1.12)" font-size="6.5" text-anchor="end" font-weight="bold" font-style="normal" fill="#111" stroke="#111" stroke-width="0.14" >Intermediate−high</text>
<circle cx="343.50" cy="224.00" r="1.15" fill="#e6b84a"/>
<text x="0" y="0" transform="translate(358.30,226.28) scale(1,1.12)" font-size="6.5" text-anchor="middle" font-weight="normal" font-style="normal" fill="#222" stroke="#222" stroke-width="0.2" >3.2</text>
<text x="0" y="0" transform="translate(402.50,226.28) scale(1,1.12)" font-size="6.5" text-anchor="middle" font-weight="normal" font-style="normal" fill="#222" stroke="#222" stroke-width="0.2" >( 1.9 − 5.4 )</text>
<text x="0" y="0" transform="translate(447.00,226.28) scale(1,1.12)" font-size="6.5" text-anchor="middle" font-weight="normal" font-style="normal" fill="#222" stroke="#222" stroke-width="0.2" >5.9e−06</text>
<text x="0" y="0" transform="translate(491.60,226.28) scale(1,1.12)" font-size="6.5" text-anchor="middle" font-weight="normal" font-style="normal" fill="#222" stroke="#222" stroke-width="0.2" >24%</text>
<text x="0" y="0" transform="translate(334.00,235.78) scale(1,1.12)" font-size="6.5" text-anchor="end" font-weight="bold" font-style="normal" fill="#111" stroke="#111" stroke-width="0.14" >High</text>
<circle cx="343.50" cy="233.50" r="1.15" fill="#c63c46"/>
<text x="0" y="0" transform="translate(358.30,235.78) scale(1,1.12)" font-size="6.5" text-anchor="middle" font-weight="normal" font-style="normal" fill="#222" stroke="#222" stroke-width="0.2" >6.9</text>
<text x="0" y="0" transform="translate(402.50,235.78) scale(1,1.12)" font-size="6.5" text-anchor="middle" font-weight="normal" font-style="normal" fill="#222" stroke="#222" stroke-width="0.2" >( 4.1 − 12 )</text>
<text x="0" y="0" transform="translate(447.00,235.78) scale(1,1.12)" font-size="6.5" text-anchor="middle" font-weight="normal" font-style="normal" fill="#222" stroke="#222" stroke-width="0.2" >5.9e−13</text>
<text x="0" y="0" transform="translate(491.60,235.78) scale(1,1.12)" font-size="6.5" text-anchor="middle" font-weight="normal" font-style="normal" fill="#222" stroke="#222" stroke-width="0.2" >17%</text>
<text x="0" y="0" transform="translate(403.00,245.74) scale(1,1.12)" font-size="6.4" text-anchor="middle" font-weight="normal" font-style="normal" fill="#222" stroke="#222" stroke-width="0.2" >Likelihood ratio test 2.70e−12; n: 328; number of events: 149</text>
<text x="0" y="0" font-size="17.9" font-weight="bold" fill="#000" stroke="#000" stroke-width="0.1" transform="translate(1.10,264.50) scale(0.92,1)">C</text>
<line x1="44.25" y1="271.30" x2="44.25" y2="418.50" stroke="#9c9c9c" stroke-width="1.1"/>
<line x1="42.30" y1="271.30" x2="44.10" y2="271.30" stroke="#9c9c9c" stroke-width="0.9"/>
<text x="0" y="0" transform="translate(39.50,274.10) scale(1,1.12)" font-size="6.3" text-anchor="end" font-weight="normal" font-style="normal" fill="#3a3a3a" stroke="#3a3a3a" stroke-width="0.22" >100 %</text>
<line x1="42.30" y1="308.10" x2="44.10" y2="308.10" stroke="#9c9c9c" stroke-width="0.9"/>
<text x="0" y="0" transform="translate(39.50,310.90) scale(1,1.12)" font-size="6.3" text-anchor="end" font-weight="normal" font-style="normal" fill="#3a3a3a" stroke="#3a3a3a" stroke-width="0.22" >75 %</text>
<line x1="42.30" y1="344.90" x2="44.10" y2="344.90" stroke="#9c9c9c" stroke-width="0.9"/>
<text x="0" y="0" transform="translate(39.50,347.70) scale(1,1.12)" font-size="6.3" text-anchor="end" font-weight="normal" font-style="normal" fill="#3a3a3a" stroke="#3a3a3a" stroke-width="0.22" >50 %</text>
<line x1="42.30" y1="381.70" x2="44.10" y2="381.70" stroke="#9c9c9c" stroke-width="0.9"/>
<text x="0" y="0" transform="translate(39.50,384.50) scale(1,1.12)" font-size="6.3" text-anchor="end" font-weight="normal" font-style="normal" fill="#3a3a3a" stroke="#3a3a3a" stroke-width="0.22" >25 %</text>
<line x1="42.30" y1="418.50" x2="44.10" y2="418.50" stroke="#9c9c9c" stroke-width="0.9"/>
<text x="0" y="0" transform="translate(39.50,421.30) scale(1,1.12)" font-size="6.3" text-anchor="end" font-weight="normal" font-style="normal" fill="#3a3a3a" stroke="#3a3a3a" stroke-width="0.22" >0 %</text>
<text x="0" y="0" font-size="6.7" text-anchor="middle" fill="#3a3a3a" stroke="#3a3a3a" stroke-width="0.1" transform="translate(20.70,344.80) rotate(-90)">Overall survival</text>
<line x1="44.30" y1="424.40" x2="254.30" y2="424.40" stroke="#9c9c9c" stroke-width="1.1"/>
<line x1="44.30" y1="424.40" x2="44.30" y2="426.20" stroke="#9c9c9c" stroke-width="0.9"/>
<text x="0" y="0" transform="translate(44.30,433.40) scale(1,1.12)" font-size="6.3" text-anchor="middle" font-weight="normal" font-style="normal" fill="#3a3a3a" stroke="#3a3a3a" stroke-width="0.22" >0</text>
<line x1="79.30" y1="424.40" x2="79.30" y2="426.20" stroke="#9c9c9c" stroke-width="0.9"/>
<line x1="114.30" y1="424.40" x2="114.30" y2="426.20" stroke="#9c9c9c" stroke-width="0.9"/>
<text x="0" y="0" transform="translate(114.30,433.40) scale(1,1.12)" font-size="6.3" text-anchor="middle" font-weight="normal" font-style="normal" fill="#3a3a3a" stroke="#3a3a3a" stroke-width="0.22" >24</text>
<line x1="149.30" y1="424.40" x2="149.30" y2="426.20" stroke="#9c9c9c" stroke-width="0.9"/>
<line x1="184.30" y1="424.40" x2="184.30" y2="426.20" stroke="#9c9c9c" stroke-width="0.9"/>
<text x="0" y="0" transform="translate(184.30,433.40) scale(1,1.12)" font-size="6.3" text-anchor="middle" font-weight="normal" font-style="normal" fill="#3a3a3a" stroke="#3a3a3a" stroke-width="0.22" >48</text>
<line x1="219.30" y1="424.40" x2="219.30" y2="426.20" stroke="#9c9c9c" stroke-width="0.9"/>
<line x1="254.30" y1="424.40" x2="254.30" y2="426.20" stroke="#9c9c9c" stroke-width="0.9"/>
<text x="0" y="0" transform="translate(254.30,433.40) scale(1,1.12)" font-size="6.3" text-anchor="middle" font-weight="normal" font-style="normal" fill="#3a3a3a" stroke="#3a3a3a" stroke-width="0.22" >72</text>
<text x="0" y="0" transform="translate(149.30,443.34) scale(1,1.12)" font-size="6.4" text-anchor="middle" font-weight="normal" font-style="normal" fill="#3a3a3a" stroke="#3a3a3a" stroke-width="0.22" >Months</text>
<path d="M44.30,271.00 L48.90,272.00 L52.80,275.20 L58.90,279.10 L65.10,282.20 L69.70,285.20 L75.80,288.30 L82.00,291.40 L88.20,294.50 L94.30,297.50 L102.00,300.60 L109.70,302.90 L115.80,305.70 L119.20,307.20 L125.40,308.80 L133.10,310.80 L140.80,313.10 L148.50,314.60 L156.20,316.90 L163.80,318.90 L170.00,320.50 L171.84,320.50 L171.84,321.02 L173.68,321.02 L173.68,321.54 L175.52,321.54 L175.52,322.06 L177.36,322.06 L177.36,322.58 L179.20,322.58 L179.20,323.10 L180.95,323.10 L180.95,323.71 L182.71,323.71 L182.71,324.32 L184.46,324.32 L184.46,324.93 L186.22,324.93 L186.22,325.54 L187.97,325.54 L187.97,326.15 L189.73,326.15 L189.73,326.75 L191.48,326.75 L191.48,327.36 L193.24,327.36 L193.24,327.97 L194.99,327.97 L194.99,328.58 L196.75,328.58 L196.75,329.19 L198.50,329.19 L198.50,329.80 L200.42,329.80 L200.42,330.50 L202.33,330.50 L202.33,331.20 L204.25,331.20 L204.25,331.90 L206.17,331.90 L206.17,332.60 L208.08,332.60 L208.08,333.30 L210.00,333.30 L210.00,334.00 L211.92,334.00 L211.92,334.75 L213.83,334.75 L213.83,335.50 L215.75,335.50 L215.75,336.25 L217.67,336.25 L217.67,337.00 L219.58,337.00 L219.58,337.75 L221.50,337.75 L221.50,338.50 L223.43,338.50 L223.43,338.98 L225.35,338.98 L225.35,339.45 L227.27,339.45 L227.27,339.92 L229.20,339.92 L229.20,340.40 L230.91,340.40 L230.91,340.50 L232.62,340.50 L232.62,340.60 L234.33,340.60 L234.33,340.70 L236.04,340.70 L236.04,340.80 L237.76,340.80 L237.76,340.90 L239.47,340.90 L239.47,341.00 L241.18,341.00 L241.18,341.10 L242.89,341.10 L242.89,341.20 L244.60,341.20 L244.60,341.30 L246.52,341.30 L246.52,341.78 L248.44,341.78 L248.44,342.26 L250.36,342.26 L250.36,342.74 L252.28,342.74 L252.28,343.22 L254.20,343.22 L254.20,343.70" fill="none" stroke="#4242a6" stroke-width="1.25" stroke-linejoin="miter"/>
<path d="M44.30,271.00 L48.90,272.20 L50.50,276.00 L52.80,281.40 L55.10,285.20 L57.40,287.50 L58.90,289.10 L60.50,292.90 L62.00,296.00 L66.60,300.60 L72.80,305.20 L75.80,308.30 L78.90,312.20 L83.50,316.80 L88.20,321.40 L92.80,325.60 L100.80,330.80 L105.40,334.60 L108.50,339.20 L113.10,340.80 L117.70,343.80 L125.40,347.70 L131.50,351.50 L137.70,354.60 L143.80,357.70 L151.50,361.50 L157.70,365.40 L160.00,367.20 L165.80,371.80 L167.70,371.80 L167.70,372.53 L169.60,372.53 L169.60,373.27 L171.50,373.27 L171.50,374.00 L173.43,374.00 L173.43,374.50 L175.35,374.50 L175.35,375.00 L177.27,375.00 L177.27,375.50 L179.20,375.50 L179.20,376.00 L181.13,376.00 L181.13,376.30 L183.07,376.30 L183.07,376.60 L185.00,376.60 L185.00,376.90 L186.75,376.90 L186.75,376.94 L188.49,376.94 L188.49,376.97 L190.24,376.97 L190.24,377.01 L191.98,377.01 L191.98,377.05 L193.73,377.05 L193.73,377.08 L195.47,377.08 L195.47,377.12 L197.22,377.12 L197.22,377.15 L198.96,377.15 L198.96,377.19 L200.71,377.19 L200.71,377.23 L202.45,377.23 L202.45,377.26 L204.20,377.26 L204.20,377.30 L206.20,377.30 L206.20,378.80 L208.12,378.80 L208.12,378.88 L210.04,378.88 L210.04,378.96 L211.96,378.96 L211.96,379.04 L213.88,379.04 L213.88,379.12 L215.80,379.12 L215.80,379.20 L217.59,379.20 L217.59,379.34 L219.37,379.34 L219.37,379.49 L221.16,379.49 L221.16,379.63 L222.94,379.63 L222.94,379.77 L224.73,379.77 L224.73,379.91 L226.51,379.91 L226.51,380.06 L228.30,380.06 L228.30,380.20 L229.20,380.20 L229.20,382.50 L231.12,382.50 L231.12,382.58 L233.04,382.58 L233.04,382.66 L234.96,382.66 L234.96,382.74 L236.88,382.74 L236.88,382.82 L238.80,382.82 L238.80,382.90 L239.80,382.90 L239.80,384.55 L240.80,384.55 L240.80,386.20 L254.20,386.20" fill="none" stroke="#c63c46" stroke-width="1.25" stroke-linejoin="miter"/>
<text x="0" y="0" transform="translate(214.80,351.64) scale(1,1.12)" font-size="6.15" text-anchor="start" font-weight="normal" font-style="normal" fill="#4848a8" stroke="#4848a8" stroke-width="0.12" >EMC92 = SR</text>
<text x="0" y="0" transform="translate(215.80,394.64) scale(1,1.12)" font-size="6.15" text-anchor="start" font-weight="normal" font-style="normal" fill="#c84450" stroke="#c84450" stroke-width="0.12" >EMC92 = HR</text>
<line x1="33.20" y1="450.30" x2="254.60" y2="450.30" stroke="#6e6e6e" stroke-width="1"/>
<line x1="33.20" y1="464.00" x2="254.60" y2="464.00" stroke="#9a9a9a" stroke-width="1"/>
<line x1="33.20" y1="491.30" x2="254.60" y2="491.30" stroke="#9a9a9a" stroke-width="1"/>
<line x1="33.20" y1="504.70" x2="254.60" y2="504.70" stroke="#6e6e6e" stroke-width="1"/>
<text x="0" y="0" transform="translate(81.00,459.18) scale(1,1.12)" font-size="6.5" text-anchor="start" font-weight="bold" font-style="normal" fill="#111" stroke="#111" stroke-width="0.12" >Hazard ratio</text>
<text x="0" y="0" transform="translate(144.50,459.18) scale(1,1.12)" font-size="6.5" text-anchor="middle" font-weight="bold" font-style="normal" fill="#111" stroke="#111" stroke-width="0.12" >95%CI</text>
<text x="0" y="0" transform="translate(188.70,457.88) scale(1,1.12)" font-size="6.5" text-anchor="middle" font-weight="bold" font-style="italic" fill="#111" stroke="#111" stroke-width="0.12" >p</text>
<text x="0" y="0" transform="translate(232.80,459.18) scale(1,1.12)" font-size="6.5" text-anchor="middle" font-weight="bold" font-style="normal" fill="#111" stroke="#111" stroke-width="0.12" >Proportion</text>
<text x="0" y="0" transform="translate(74.80,472.98) scale(1,1.12)" font-size="6.5" text-anchor="end" font-weight="bold" font-style="normal" fill="#111" stroke="#111" stroke-width="0.14" >Standard</text>
<circle cx="85.20" cy="470.70" r="1.15" fill="#4242a6"/>
<text x="0" y="0" transform="translate(99.50,472.98) scale(1,1.12)" font-size="6.5" text-anchor="middle" font-weight="normal" font-style="normal" fill="#222" stroke="#222" stroke-width="0.2" >1</text>
<text x="0" y="0" transform="translate(232.80,472.98) scale(1,1.12)" font-size="6.5" text-anchor="middle" font-weight="normal" font-style="normal" fill="#222" stroke="#222" stroke-width="0.2" >82%</text>
<text x="0" y="0" transform="translate(74.80,486.98) scale(1,1.12)" font-size="6.5" text-anchor="end" font-weight="bold" font-style="normal" fill="#111" stroke="#111" stroke-width="0.14" >High</text>
<circle cx="85.20" cy="484.70" r="1.15" fill="#c63c46"/>
<text x="0" y="0" transform="translate(99.50,486.98) scale(1,1.12)" font-size="6.5" text-anchor="middle" font-weight="normal" font-style="normal" fill="#222" stroke="#222" stroke-width="0.2" >2.8</text>
<text x="0" y="0" transform="translate(144.50,486.98) scale(1,1.12)" font-size="6.5" text-anchor="middle" font-weight="normal" font-style="normal" fill="#222" stroke="#222" stroke-width="0.2" >( 2.3 − 3.4 )</text>
<text x="0" y="0" transform="translate(188.00,486.98) scale(1,1.12)" font-size="6.5" text-anchor="middle" font-weight="normal" font-style="normal" fill="#222" stroke="#222" stroke-width="0.2" >. ≤ 1e−15</text>
<text x="0" y="0" transform="translate(232.80,486.98) scale(1,1.12)" font-size="6.5" text-anchor="middle" font-weight="normal" font-style="normal" fill="#222" stroke="#222" stroke-width="0.2" >18%</text>
<text x="0" y="0" transform="translate(143.90,500.74) scale(1,1.12)" font-size="6.4" text-anchor="middle" font-weight="normal" font-style="normal" fill="#222" stroke="#222" stroke-width="0.2" >Likelihood ratio test ≤ 1e−15, n : 1094, number of events : 504</text>
<text x="0" y="0" font-size="17.9" font-weight="bold" fill="#000" stroke="#000" stroke-width="0.1" transform="translate(264.40,264.50) scale(0.92,1)">D</text>
<line x1="303.45" y1="271.00" x2="303.45" y2="418.50" stroke="#9c9c9c" stroke-width="1.1"/>
<line x1="301.50" y1="271.00" x2="303.30" y2="271.00" stroke="#9c9c9c" stroke-width="0.9"/>
<text x="0" y="0" transform="translate(298.70,273.80) scale(1,1.12)" font-size="6.3" text-anchor="end" font-weight="normal" font-style="normal" fill="#3a3a3a" stroke="#3a3a3a" stroke-width="0.22" >100 %</text>
<line x1="301.50" y1="307.88" x2="303.30" y2="307.88" stroke="#9c9c9c" stroke-width="0.9"/>
<text x="0" y="0" transform="translate(298.70,310.68) scale(1,1.12)" font-size="6.3" text-anchor="end" font-weight="normal" font-style="normal" fill="#3a3a3a" stroke="#3a3a3a" stroke-width="0.22" >75 %</text>
<line x1="301.50" y1="344.75" x2="303.30" y2="344.75" stroke="#9c9c9c" stroke-width="0.9"/>
<text x="0" y="0" transform="translate(298.70,347.55) scale(1,1.12)" font-size="6.3" text-anchor="end" font-weight="normal" font-style="normal" fill="#3a3a3a" stroke="#3a3a3a" stroke-width="0.22" >50 %</text>
<line x1="301.50" y1="381.62" x2="303.30" y2="381.62" stroke="#9c9c9c" stroke-width="0.9"/>
<text x="0" y="0" transform="translate(298.70,384.43) scale(1,1.12)" font-size="6.3" text-anchor="end" font-weight="normal" font-style="normal" fill="#3a3a3a" stroke="#3a3a3a" stroke-width="0.22" >25 %</text>
<line x1="301.50" y1="418.50" x2="303.30" y2="418.50" stroke="#9c9c9c" stroke-width="0.9"/>
<text x="0" y="0" transform="translate(298.70,421.30) scale(1,1.12)" font-size="6.3" text-anchor="end" font-weight="normal" font-style="normal" fill="#3a3a3a" stroke="#3a3a3a" stroke-width="0.22" >0 %</text>
<text x="0" y="0" font-size="6.7" text-anchor="middle" fill="#3a3a3a" stroke="#3a3a3a" stroke-width="0.1" transform="translate(280.00,344.80) rotate(-90)">Overall survival</text>
<line x1="303.30" y1="424.40" x2="513.30" y2="424.40" stroke="#9c9c9c" stroke-width="1.1"/>
<line x1="303.30" y1="424.40" x2="303.30" y2="426.20" stroke="#9c9c9c" stroke-width="0.9"/>
<text x="0" y="0" transform="translate(303.30,433.40) scale(1,1.12)" font-size="6.3" text-anchor="middle" font-weight="normal" font-style="normal" fill="#3a3a3a" stroke="#3a3a3a" stroke-width="0.22" >0</text>
<line x1="320.80" y1="424.40" x2="320.80" y2="426.20" stroke="#9c9c9c" stroke-width="0.9"/>
<line x1="338.30" y1="424.40" x2="338.30" y2="426.20" stroke="#9c9c9c" stroke-width="0.9"/>
<text x="0" y="0" transform="translate(338.30,433.40) scale(1,1.12)" font-size="6.3" text-anchor="middle" font-weight="normal" font-style="normal" fill="#3a3a3a" stroke="#3a3a3a" stroke-width="0.22" >24</text>
<line x1="355.80" y1="424.40" x2="355.80" y2="426.20" stroke="#9c9c9c" stroke-width="0.9"/>
<line x1="373.30" y1="424.40" x2="373.30" y2="426.20" stroke="#9c9c9c" stroke-width="0.9"/>
<text x="0" y="0" transform="translate(373.30,433.40) scale(1,1.12)" font-size="6.3" text-anchor="middle" font-weight="normal" font-style="normal" fill="#3a3a3a" stroke="#3a3a3a" stroke-width="0.22" >48</text>
<line x1="390.80" y1="424.40" x2="390.80" y2="426.20" stroke="#9c9c9c" stroke-width="0.9"/>
<line x1="408.30" y1="424.40" x2="408.30" y2="426.20" stroke="#9c9c9c" stroke-width="0.9"/>
<text x="0" y="0" transform="translate(408.30,433.40) scale(1,1.12)" font-size="6.3" text-anchor="middle" font-weight="normal" font-style="normal" fill="#3a3a3a" stroke="#3a3a3a" stroke-width="0.22" >72</text>
<line x1="425.80" y1="424.40" x2="425.80" y2="426.20" stroke="#9c9c9c" stroke-width="0.9"/>
<line x1="443.30" y1="424.40" x2="443.30" y2="426.20" stroke="#9c9c9c" stroke-width="0.9"/>
<text x="0" y="0" transform="translate(443.30,433.40) scale(1,1.12)" font-size="6.3" text-anchor="middle" font-weight="normal" font-style="normal" fill="#3a3a3a" stroke="#3a3a3a" stroke-width="0.22" >96</text>
<line x1="460.80" y1="424.40" x2="460.80" y2="426.20" stroke="#9c9c9c" stroke-width="0.9"/>
<line x1="478.30" y1="424.40" x2="478.30" y2="426.20" stroke="#9c9c9c" stroke-width="0.9"/>
<text x="0" y="0" transform="translate(478.30,433.40) scale(1,1.12)" font-size="6.3" text-anchor="middle" font-weight="normal" font-style="normal" fill="#3a3a3a" stroke="#3a3a3a" stroke-width="0.22" >120</text>
<line x1="495.80" y1="424.40" x2="495.80" y2="426.20" stroke="#9c9c9c" stroke-width="0.9"/>
<line x1="513.30" y1="424.40" x2="513.30" y2="426.20" stroke="#9c9c9c" stroke-width="0.9"/>
<text x="0" y="0" transform="translate(513.30,433.40) scale(1,1.12)" font-size="6.3" text-anchor="middle" font-weight="normal" font-style="normal" fill="#3a3a3a" stroke="#3a3a3a" stroke-width="0.22" >144</text>
<text x="0" y="0" transform="translate(408.30,443.34) scale(1,1.12)" font-size="6.4" text-anchor="middle" font-weight="normal" font-style="normal" fill="#3a3a3a" stroke="#3a3a3a" stroke-width="0.22" >Months</text>
<path d="M303.30,271.00 L310.20,273.70 L316.40,276.00 L324.10,279.10 L331.80,282.20 L339.50,286.00 L347.20,289.10 L354.80,292.50 L361.20,296.90 L367.30,300.80 L375.00,303.80 L382.70,306.90 L390.40,310.30 L398.10,313.80 L404.20,316.90 L410.40,320.00 L415.00,323.10 L421.20,325.10 L427.30,327.70 L430.00,328.20 L436.50,331.40 L443.10,334.40 L444.73,334.40 L444.73,334.88 L446.35,334.88 L446.35,335.35 L447.98,335.35 L447.98,335.82 L449.60,335.82 L449.60,336.30 L451.25,336.30 L451.25,336.65 L452.90,336.65 L452.90,337.00 L454.55,337.00 L454.55,337.35 L456.20,337.35 L456.20,337.70 L458.10,337.70 L458.10,338.07 L460.00,338.07 L460.00,338.43 L461.90,338.43 L461.90,338.80 L464.30,338.80 L464.30,340.40 L465.95,340.40 L465.95,340.60 L467.60,340.60 L467.60,340.80 L469.25,340.80 L469.25,341.00 L470.90,341.00 L470.90,341.20 L472.53,341.20 L472.53,341.77 L474.17,341.77 L474.17,342.33 L475.80,342.33 L475.80,342.90 L477.40,342.90 L477.40,343.70 L479.00,343.70 L479.00,344.50 L480.65,344.50 L480.65,345.75 L482.30,345.75 L482.30,347.00 L483.90,347.00 L483.90,348.60 L501.90,348.60 L503.60,348.60 L503.60,350.20 L513.40,350.20" fill="none" stroke="#4242a6" stroke-width="1.25" stroke-linejoin="miter"/>
<path d="M303.30,271.00 L307.20,276.80 L310.20,281.40 L314.80,285.20 L321.00,289.10 L327.20,292.90 L333.30,296.80 L339.50,300.60 L345.60,305.20 L351.80,309.10 L355.00,312.30 L361.20,316.20 L367.30,320.80 L375.00,325.40 L382.70,330.00 L390.40,333.80 L398.10,337.70 L405.80,341.50 L413.50,344.60 L421.20,347.70 L428.80,350.80 L433.30,355.10 L439.80,356.30 L446.30,357.90 L447.94,357.90 L447.94,358.42 L449.58,358.42 L449.58,358.94 L451.22,358.94 L451.22,359.46 L452.86,359.46 L452.86,359.98 L454.50,359.98 L454.50,360.50 L456.46,360.50 L456.46,360.96 L458.42,360.96 L458.42,361.42 L460.38,361.42 L460.38,361.88 L462.34,361.88 L462.34,362.34 L464.30,362.34 L464.30,362.80 L465.93,362.80 L465.93,363.80 L467.57,363.80 L467.57,364.80 L469.20,364.80 L469.20,365.80 L470.83,365.80 L470.83,366.60 L472.47,366.60 L472.47,367.40 L474.10,367.40 L474.10,368.20 L475.73,368.20 L475.73,369.13 L477.37,369.13 L477.37,370.07 L479.00,370.07 L479.00,371.00 L480.65,371.00 L480.65,371.12 L482.30,371.12 L482.30,371.25 L483.95,371.25 L483.95,371.38 L485.60,371.38 L485.60,371.50 L486.80,371.50 L486.80,373.15 L488.00,373.15 L488.00,374.80 L490.05,374.80 L490.05,375.35 L492.10,375.35 L492.10,375.90 L513.40,375.90" fill="none" stroke="#e6b84a" stroke-width="1.25" stroke-linejoin="miter"/>
<path d="M303.30,271.00 L305.60,275.20 L307.90,280.60 L310.20,283.70 L313.30,288.30 L316.40,292.90 L321.00,298.30 L325.60,303.70 L331.80,309.80 L337.90,316.00 L344.10,322.20 L350.20,327.50 L355.00,332.30 L361.20,336.90 L367.30,341.50 L373.50,346.20 L379.60,350.80 L385.80,353.80 L393.50,357.70 L401.20,361.50 L407.30,365.10 L413.50,366.90 L419.60,369.20 L425.80,370.80 L430.40,371.50 L433.50,375.60 L438.20,379.70 L441.40,382.90 L443.05,382.90 L443.05,383.10 L444.70,383.10 L444.70,383.30 L446.35,383.30 L446.35,383.50 L448.00,383.50 L448.00,383.70 L449.63,383.70 L449.63,384.27 L451.27,384.27 L451.27,384.83 L452.90,384.83 L452.90,385.40 L454.53,385.40 L454.53,385.67 L456.17,385.67 L456.17,385.93 L457.80,385.93 L457.80,386.20 L513.40,386.20" fill="none" stroke="#c63c46" stroke-width="1.25" stroke-linejoin="miter"/>
<text x="0" y="0" transform="translate(490.20,358.64) scale(1,1.12)" font-size="6.15" text-anchor="start" font-weight="normal" font-style="normal" fill="#4848a8" stroke="#4848a8" stroke-width="0.12" >ISS = 1</text>
<text x="0" y="0" transform="translate(490.20,382.84) scale(1,1.12)" font-size="6.15" text-anchor="start" font-weight="normal" font-style="normal" fill="#e6bc5c" stroke="#e6bc5c" stroke-width="0.12" >ISS = 2</text>
<text x="0" y="0" transform="translate(490.20,394.04) scale(1,1.12)" font-size="6.15" text-anchor="start" font-weight="normal" font-style="normal" fill="#c84450" stroke="#c84450" stroke-width="0.12" >ISS = 3</text>
<line x1="292.30" y1="448.70" x2="514.60" y2="448.70" stroke="#6e6e6e" stroke-width="1"/>
<line x1="292.30" y1="460.00" x2="514.60" y2="460.00" stroke="#9a9a9a" stroke-width="1"/>
<line x1="292.30" y1="494.40" x2="514.60" y2="494.40" stroke="#9a9a9a" stroke-width="1"/>
<line x1="292.30" y1="505.10" x2="514.60" y2="505.10" stroke="#6e6e6e" stroke-width="1"/>
<text x="0" y="0" transform="translate(339.80,456.48) scale(1,1.12)" font-size="6.5" text-anchor="start" font-weight="bold" font-style="normal" fill="#111" stroke="#111" stroke-width="0.12" >Hazard ratio</text>
<text x="0" y="0" transform="translate(403.80,456.48) scale(1,1.12)" font-size="6.5" text-anchor="middle" font-weight="bold" font-style="normal" fill="#111" stroke="#111" stroke-width="0.12" >95%CI</text>
<text x="0" y="0" transform="translate(447.30,455.18) scale(1,1.12)" font-size="6.5" text-anchor="middle" font-weight="bold" font-style="italic" fill="#111" stroke="#111" stroke-width="0.12" >p</text>
<text x="0" y="0" transform="translate(492.00,456.48) scale(1,1.12)" font-size="6.5" text-anchor="middle" font-weight="bold" font-style="normal" fill="#111" stroke="#111" stroke-width="0.12" >Proportion</text>
<text x="0" y="0" transform="translate(334.00,468.18) scale(1,1.12)" font-size="6.5" text-anchor="end" font-weight="bold" font-style="normal" fill="#111" stroke="#111" stroke-width="0.14" >Low</text>
<circle cx="343.70" cy="465.90" r="1.15" fill="#4242a6"/>
<text x="0" y="0" transform="translate(359.00,468.18) scale(1,1.12)" font-size="6.5" text-anchor="middle" font-weight="normal" font-style="normal" fill="#222" stroke="#222" stroke-width="0.2" >1</text>
<text x="0" y="0" transform="translate(492.00,468.18) scale(1,1.12)" font-size="6.5" text-anchor="middle" font-weight="normal" font-style="normal" fill="#222" stroke="#222" stroke-width="0.2" >34%</text>
<text x="0" y="0" transform="translate(334.00,479.28) scale(1,1.12)" font-size="6.5" text-anchor="end" font-weight="bold" font-style="normal" fill="#111" stroke="#111" stroke-width="0.14" >Intermediate</text>
<circle cx="343.70" cy="477.00" r="1.15" fill="#e6b84a"/>
<text x="0" y="0" transform="translate(359.00,479.28) scale(1,1.12)" font-size="6.5" text-anchor="middle" font-weight="normal" font-style="normal" fill="#222" stroke="#222" stroke-width="0.2" >1.6</text>
<text x="0" y="0" transform="translate(403.80,479.28) scale(1,1.12)" font-size="6.5" text-anchor="middle" font-weight="normal" font-style="normal" fill="#222" stroke="#222" stroke-width="0.2" >( 1.4 − 1.8 )</text>
<text x="0" y="0" transform="translate(447.30,479.28) scale(1,1.12)" font-size="6.5" text-anchor="middle" font-weight="normal" font-style="normal" fill="#222" stroke="#222" stroke-width="0.2" >1e−14</text>
<text x="0" y="0" transform="translate(492.00,479.28) scale(1,1.12)" font-size="6.5" text-anchor="middle" font-weight="normal" font-style="normal" fill="#222" stroke="#222" stroke-width="0.2" >37%</text>
<text x="0" y="0" transform="translate(334.00,490.48) scale(1,1.12)" font-size="6.5" text-anchor="end" font-weight="bold" font-style="normal" fill="#111" stroke="#111" stroke-width="0.14" >High</text>
<circle cx="343.70" cy="488.20" r="1.15" fill="#c63c46"/>
<text x="0" y="0" transform="translate(359.00,490.48) scale(1,1.12)" font-size="6.5" text-anchor="middle" font-weight="normal" font-style="normal" fill="#222" stroke="#222" stroke-width="0.2" >2.3</text>
<text x="0" y="0" transform="translate(403.80,490.48) scale(1,1.12)" font-size="6.5" text-anchor="middle" font-weight="normal" font-style="normal" fill="#222" stroke="#222" stroke-width="0.2" >( 2.1 − 2.6 )</text>
<text x="0" y="0" transform="translate(447.30,490.48) scale(1,1.12)" font-size="6.5" text-anchor="middle" font-weight="normal" font-style="normal" fill="#222" stroke="#222" stroke-width="0.2" >. ≤ 1e−15</text>
<text x="0" y="0" transform="translate(492.00,490.48) scale(1,1.12)" font-size="6.5" text-anchor="middle" font-weight="normal" font-style="normal" fill="#222" stroke="#222" stroke-width="0.2" >30%</text>
<text x="0" y="0" transform="translate(403.45,502.64) scale(1,1.12)" font-size="6.4" text-anchor="middle" font-weight="normal" font-style="normal" fill="#222" stroke="#222" stroke-width="0.2" >Likelihood ratio test ≤ 1e−15, n : 4077, number of events : 1925</text>
<text x="0" y="0" font-size="17.9" font-weight="bold" fill="#000" stroke="#000" stroke-width="0.1" transform="translate(2.80,519.40) scale(0.92,1)">E</text>
<line x1="44.25" y1="528.00" x2="44.25" y2="675.00" stroke="#9c9c9c" stroke-width="1.1"/>
<line x1="42.30" y1="528.00" x2="44.10" y2="528.00" stroke="#9c9c9c" stroke-width="0.9"/>
<text x="0" y="0" transform="translate(39.50,530.80) scale(1,1.12)" font-size="6.3" text-anchor="end" font-weight="normal" font-style="normal" fill="#3a3a3a" stroke="#3a3a3a" stroke-width="0.22" >100 %</text>
<line x1="42.30" y1="564.75" x2="44.10" y2="564.75" stroke="#9c9c9c" stroke-width="0.9"/>
<text x="0" y="0" transform="translate(39.50,567.55) scale(1,1.12)" font-size="6.3" text-anchor="end" font-weight="normal" font-style="normal" fill="#3a3a3a" stroke="#3a3a3a" stroke-width="0.22" >75 %</text>
<line x1="42.30" y1="601.50" x2="44.10" y2="601.50" stroke="#9c9c9c" stroke-width="0.9"/>
<text x="0" y="0" transform="translate(39.50,604.30) scale(1,1.12)" font-size="6.3" text-anchor="end" font-weight="normal" font-style="normal" fill="#3a3a3a" stroke="#3a3a3a" stroke-width="0.22" >50 %</text>
<line x1="42.30" y1="638.25" x2="44.10" y2="638.25" stroke="#9c9c9c" stroke-width="0.9"/>
<text x="0" y="0" transform="translate(39.50,641.05) scale(1,1.12)" font-size="6.3" text-anchor="end" font-weight="normal" font-style="normal" fill="#3a3a3a" stroke="#3a3a3a" stroke-width="0.22" >25 %</text>
<line x1="42.30" y1="675.00" x2="44.10" y2="675.00" stroke="#9c9c9c" stroke-width="0.9"/>
<text x="0" y="0" transform="translate(39.50,677.80) scale(1,1.12)" font-size="6.3" text-anchor="end" font-weight="normal" font-style="normal" fill="#3a3a3a" stroke="#3a3a3a" stroke-width="0.22" >0 %</text>
<text x="0" y="0" font-size="6.7" text-anchor="middle" fill="#3a3a3a" stroke="#3a3a3a" stroke-width="0.1" transform="translate(20.70,601.50) rotate(-90)">Overall survival</text>
<line x1="44.30" y1="681.60" x2="254.30" y2="681.60" stroke="#9c9c9c" stroke-width="1.1"/>
<line x1="44.30" y1="681.60" x2="44.30" y2="683.40" stroke="#9c9c9c" stroke-width="0.9"/>
<text x="0" y="0" transform="translate(44.30,690.60) scale(1,1.12)" font-size="6.3" text-anchor="middle" font-weight="normal" font-style="normal" fill="#3a3a3a" stroke="#3a3a3a" stroke-width="0.22" >0</text>
<line x1="61.80" y1="681.60" x2="61.80" y2="683.40" stroke="#9c9c9c" stroke-width="0.9"/>
<line x1="79.30" y1="681.60" x2="79.30" y2="683.40" stroke="#9c9c9c" stroke-width="0.9"/>
<text x="0" y="0" transform="translate(79.30,690.60) scale(1,1.12)" font-size="6.3" text-anchor="middle" font-weight="normal" font-style="normal" fill="#3a3a3a" stroke="#3a3a3a" stroke-width="0.22" >24</text>
<line x1="96.80" y1="681.60" x2="96.80" y2="683.40" stroke="#9c9c9c" stroke-width="0.9"/>
<line x1="114.30" y1="681.60" x2="114.30" y2="683.40" stroke="#9c9c9c" stroke-width="0.9"/>
<text x="0" y="0" transform="translate(114.30,690.60) scale(1,1.12)" font-size="6.3" text-anchor="middle" font-weight="normal" font-style="normal" fill="#3a3a3a" stroke="#3a3a3a" stroke-width="0.22" >48</text>
<line x1="131.80" y1="681.60" x2="131.80" y2="683.40" stroke="#9c9c9c" stroke-width="0.9"/>
<line x1="149.30" y1="681.60" x2="149.30" y2="683.40" stroke="#9c9c9c" stroke-width="0.9"/>
<text x="0" y="0" transform="translate(149.30,690.60) scale(1,1.12)" font-size="6.3" text-anchor="middle" font-weight="normal" font-style="normal" fill="#3a3a3a" stroke="#3a3a3a" stroke-width="0.22" >72</text>
<line x1="166.80" y1="681.60" x2="166.80" y2="683.40" stroke="#9c9c9c" stroke-width="0.9"/>
<line x1="184.30" y1="681.60" x2="184.30" y2="683.40" stroke="#9c9c9c" stroke-width="0.9"/>
<text x="0" y="0" transform="translate(184.30,690.60) scale(1,1.12)" font-size="6.3" text-anchor="middle" font-weight="normal" font-style="normal" fill="#3a3a3a" stroke="#3a3a3a" stroke-width="0.22" >96</text>
<line x1="201.80" y1="681.60" x2="201.80" y2="683.40" stroke="#9c9c9c" stroke-width="0.9"/>
<line x1="219.30" y1="681.60" x2="219.30" y2="683.40" stroke="#9c9c9c" stroke-width="0.9"/>
<text x="0" y="0" transform="translate(219.30,690.60) scale(1,1.12)" font-size="6.3" text-anchor="middle" font-weight="normal" font-style="normal" fill="#3a3a3a" stroke="#3a3a3a" stroke-width="0.22" >120</text>
<line x1="236.80" y1="681.60" x2="236.80" y2="683.40" stroke="#9c9c9c" stroke-width="0.9"/>
<line x1="254.30" y1="681.60" x2="254.30" y2="683.40" stroke="#9c9c9c" stroke-width="0.9"/>
<text x="0" y="0" transform="translate(254.30,690.60) scale(1,1.12)" font-size="6.3" text-anchor="middle" font-weight="normal" font-style="normal" fill="#3a3a3a" stroke="#3a3a3a" stroke-width="0.22" >144</text>
<text x="0" y="0" transform="translate(149.30,700.54) scale(1,1.12)" font-size="6.4" text-anchor="middle" font-weight="normal" font-style="normal" fill="#3a3a3a" stroke="#3a3a3a" stroke-width="0.22" >Months</text>
<path d="M44.30,528.00 L52.00,536.60 L57.40,538.60 L65.10,542.00 L72.80,545.40 L78.90,546.90 L85.10,550.90 L91.20,553.50 L97.40,557.10 L100.00,558.10 L104.60,560.40 L109.20,565.00 L115.40,569.20 L123.10,573.20 L130.80,576.50 L138.50,581.20 L146.20,585.00 L153.80,588.10 L161.50,590.40 L169.20,593.50 L175.00,596.90 L176.53,596.90 L176.53,597.93 L178.07,597.93 L178.07,598.97 L179.60,598.97 L179.60,600.00 L181.67,600.00 L181.67,600.87 L183.73,600.87 L183.73,601.73 L185.80,601.73 L185.80,602.60 L187.64,602.60 L187.64,602.78 L189.48,602.78 L189.48,602.96 L191.32,602.96 L191.32,603.14 L193.16,603.14 L193.16,603.32 L195.00,603.32 L195.00,603.50 L196.53,603.50 L196.53,604.13 L198.07,604.13 L198.07,604.77 L199.60,604.77 L199.60,605.40 L201.13,605.40 L201.13,605.90 L202.67,605.90 L202.67,606.40 L204.20,606.40 L204.20,606.90 L205.73,606.90 L205.73,607.67 L207.27,607.67 L207.27,608.43 L208.80,608.43 L208.80,609.20 L210.87,609.20 L210.87,609.73 L212.93,609.73 L212.93,610.27 L215.00,610.27 L215.00,610.80 L216.53,610.80 L216.53,611.30 L218.07,611.30 L218.07,611.80 L219.60,611.80 L219.60,612.30 L221.13,612.30 L221.13,613.07 L222.67,613.07 L222.67,613.83 L224.20,613.83 L224.20,614.60 L226.15,614.60 L226.15,615.75 L228.10,615.75 L228.10,616.90 L254.20,616.90" fill="none" stroke="#4242a6" stroke-width="1.25" stroke-linejoin="miter"/>
<path d="M44.30,528.00 L52.00,536.60 L57.40,543.50 L63.50,552.00 L69.70,560.50 L75.80,568.20 L82.00,574.30 L88.20,579.70 L94.30,584.30 L100.00,588.50 L106.20,594.20 L115.40,599.60 L124.60,607.30 L130.80,610.40 L138.50,615.80 L146.20,620.40 L153.80,624.20 L161.50,627.00 L170.80,630.40 L175.00,632.30 L176.53,632.30 L176.53,633.07 L178.07,633.07 L178.07,633.83 L179.60,633.83 L179.60,634.60 L181.67,634.60 L181.67,635.73 L183.73,635.73 L183.73,636.87 L185.80,636.87 L185.80,638.00 L187.73,638.00 L187.73,638.88 L189.65,638.88 L189.65,639.75 L191.57,639.75 L191.57,640.62 L193.50,640.62 L193.50,641.50 L195.00,641.50 L195.00,642.05 L196.50,642.05 L196.50,642.60 L198.36,642.60 L198.36,642.84 L200.22,642.84 L200.22,643.08 L202.08,643.08 L202.08,643.32 L203.94,643.32 L203.94,643.56 L205.80,643.56 L205.80,643.80 L207.83,643.80 L207.83,644.43 L209.87,644.43 L209.87,645.07 L211.90,645.07 L211.90,645.70 L213.97,645.70 L213.97,646.10 L216.03,646.10 L216.03,646.50 L218.10,646.50 L218.10,646.90 L220.03,646.90 L220.03,647.10 L221.95,647.10 L221.95,647.30 L223.88,647.30 L223.88,647.50 L225.80,647.50 L225.80,647.70 L227.83,647.70 L227.83,647.87 L229.87,647.87 L229.87,648.03 L231.90,648.03 L231.90,648.20 L234.20,648.20 L234.20,650.30 L235.90,650.30 L235.90,650.40 L237.60,650.40 L237.60,650.50 L239.30,650.50 L239.30,650.60 L241.00,650.60 L241.00,650.70 L242.70,650.70 L242.70,650.80 L244.20,650.80 L244.20,653.10 L254.20,653.10" fill="none" stroke="#c63c46" stroke-width="1.25" stroke-linejoin="miter"/>
<text x="0" y="0" transform="translate(202.00,625.48) scale(1,1.12)" font-size="6.0" text-anchor="start" font-weight="normal" font-style="normal" fill="#4848a8" stroke="#4848a8" stroke-width="0.12" >HR.FISH.A. = SR</text>
<text x="0" y="0" transform="translate(203.70,659.18) scale(1,1.12)" font-size="6.0" text-anchor="start" font-weight="normal" font-style="normal" fill="#c84450" stroke="#c84450" stroke-width="0.12" >HR.FISH.A = HR</text>
<line x1="32.50" y1="707.60" x2="254.60" y2="707.60" stroke="#6e6e6e" stroke-width="1"/>
<line x1="32.50" y1="721.50" x2="254.60" y2="721.50" stroke="#9a9a9a" stroke-width="1"/>
<line x1="32.50" y1="749.00" x2="254.60" y2="749.00" stroke="#9a9a9a" stroke-width="1"/>
<line x1="32.50" y1="762.50" x2="254.60" y2="762.50" stroke="#6e6e6e" stroke-width="1"/>
<text x="0" y="0" transform="translate(81.00,716.28) scale(1,1.12)" font-size="6.5" text-anchor="start" font-weight="bold" font-style="normal" fill="#111" stroke="#111" stroke-width="0.12" >Hazard ratio</text>
<text x="0" y="0" transform="translate(144.50,716.28) scale(1,1.12)" font-size="6.5" text-anchor="middle" font-weight="bold" font-style="normal" fill="#111" stroke="#111" stroke-width="0.12" >95%CI</text>
<text x="0" y="0" transform="translate(188.70,714.98) scale(1,1.12)" font-size="6.5" text-anchor="middle" font-weight="bold" font-style="italic" fill="#111" stroke="#111" stroke-width="0.12" >p</text>
<text x="0" y="0" transform="translate(232.80,716.28) scale(1,1.12)" font-size="6.5" text-anchor="middle" font-weight="bold" font-style="normal" fill="#111" stroke="#111" stroke-width="0.12" >Proportion</text>
<text x="0" y="0" transform="translate(74.80,730.68) scale(1,1.12)" font-size="6.5" text-anchor="end" font-weight="bold" font-style="normal" fill="#111" stroke="#111" stroke-width="0.14" >Standard</text>
<circle cx="85.20" cy="728.40" r="1.15" fill="#4242a6"/>
<text x="0" y="0" transform="translate(99.50,730.68) scale(1,1.12)" font-size="6.5" text-anchor="middle" font-weight="normal" font-style="normal" fill="#222" stroke="#222" stroke-width="0.2" >1</text>
<text x="0" y="0" transform="translate(232.80,730.68) scale(1,1.12)" font-size="6.5" text-anchor="middle" font-weight="normal" font-style="normal" fill="#222" stroke="#222" stroke-width="0.2" >43%</text>
<text x="0" y="0" transform="translate(74.80,744.08) scale(1,1.12)" font-size="6.5" text-anchor="end" font-weight="bold" font-style="normal" fill="#111" stroke="#111" stroke-width="0.14" >High</text>
<circle cx="85.20" cy="741.80" r="1.15" fill="#c63c46"/>
<text x="0" y="0" transform="translate(99.50,744.08) scale(1,1.12)" font-size="6.5" text-anchor="middle" font-weight="normal" font-style="normal" fill="#222" stroke="#222" stroke-width="0.2" >2.3</text>
<text x="0" y="0" transform="translate(144.50,744.08) scale(1,1.12)" font-size="6.5" text-anchor="middle" font-weight="normal" font-style="normal" fill="#222" stroke="#222" stroke-width="0.2" >( 2 − 2.5 )</text>
<text x="0" y="0" transform="translate(188.00,744.08) scale(1,1.12)" font-size="6.5" text-anchor="middle" font-weight="normal" font-style="normal" fill="#222" stroke="#222" stroke-width="0.2" >. ≤ 1e−15</text>
<text x="0" y="0" transform="translate(232.80,744.08) scale(1,1.12)" font-size="6.5" text-anchor="middle" font-weight="normal" font-style="normal" fill="#222" stroke="#222" stroke-width="0.2" >57%</text>
<text x="0" y="0" transform="translate(143.55,758.84) scale(1,1.12)" font-size="6.4" text-anchor="middle" font-weight="normal" font-style="normal" fill="#222" stroke="#222" stroke-width="0.2" >Likelihood ratio test ≤ 1e−15, n : 2395, number of events : 1309</text>
<text x="0" y="0" font-size="17.9" font-weight="bold" fill="#000" stroke="#000" stroke-width="0.1" transform="translate(265.90,519.60) scale(0.92,1)">F</text>
<line x1="303.55" y1="527.70" x2="303.55" y2="675.00" stroke="#9c9c9c" stroke-width="1.1"/>
<line x1="301.60" y1="527.70" x2="303.40" y2="527.70" stroke="#9c9c9c" stroke-width="0.9"/>
<text x="0" y="0" transform="translate(298.80,530.50) scale(1,1.12)" font-size="6.3" text-anchor="end" font-weight="normal" font-style="normal" fill="#3a3a3a" stroke="#3a3a3a" stroke-width="0.22" >100 %</text>
<line x1="301.60" y1="564.53" x2="303.40" y2="564.53" stroke="#9c9c9c" stroke-width="0.9"/>
<text x="0" y="0" transform="translate(298.80,567.33) scale(1,1.12)" font-size="6.3" text-anchor="end" font-weight="normal" font-style="normal" fill="#3a3a3a" stroke="#3a3a3a" stroke-width="0.22" >75 %</text>
<line x1="301.60" y1="601.35" x2="303.40" y2="601.35" stroke="#9c9c9c" stroke-width="0.9"/>
<text x="0" y="0" transform="translate(298.80,604.15) scale(1,1.12)" font-size="6.3" text-anchor="end" font-weight="normal" font-style="normal" fill="#3a3a3a" stroke="#3a3a3a" stroke-width="0.22" >50 %</text>
<line x1="301.60" y1="638.17" x2="303.40" y2="638.17" stroke="#9c9c9c" stroke-width="0.9"/>
<text x="0" y="0" transform="translate(298.80,640.98) scale(1,1.12)" font-size="6.3" text-anchor="end" font-weight="normal" font-style="normal" fill="#3a3a3a" stroke="#3a3a3a" stroke-width="0.22" >25 %</text>
<line x1="301.60" y1="675.00" x2="303.40" y2="675.00" stroke="#9c9c9c" stroke-width="0.9"/>
<text x="0" y="0" transform="translate(298.80,677.80) scale(1,1.12)" font-size="6.3" text-anchor="end" font-weight="normal" font-style="normal" fill="#3a3a3a" stroke="#3a3a3a" stroke-width="0.22" >0 %</text>
<text x="0" y="0" font-size="6.7" text-anchor="middle" fill="#3a3a3a" stroke="#3a3a3a" stroke-width="0.1" transform="translate(280.00,601.50) rotate(-90)">Overall survival</text>
<line x1="303.30" y1="681.30" x2="513.67" y2="681.30" stroke="#9c9c9c" stroke-width="1.1"/>
<line x1="303.30" y1="681.30" x2="303.30" y2="683.10" stroke="#9c9c9c" stroke-width="0.9"/>
<text x="0" y="0" transform="translate(303.30,690.30) scale(1,1.12)" font-size="6.3" text-anchor="middle" font-weight="normal" font-style="normal" fill="#3a3a3a" stroke="#3a3a3a" stroke-width="0.22" >0</text>
<line x1="326.68" y1="681.30" x2="326.68" y2="683.10" stroke="#9c9c9c" stroke-width="0.9"/>
<line x1="350.05" y1="681.30" x2="350.05" y2="683.10" stroke="#9c9c9c" stroke-width="0.9"/>
<text x="0" y="0" transform="translate(350.05,690.30) scale(1,1.12)" font-size="6.3" text-anchor="middle" font-weight="normal" font-style="normal" fill="#3a3a3a" stroke="#3a3a3a" stroke-width="0.22" >24</text>
<line x1="373.43" y1="681.30" x2="373.43" y2="683.10" stroke="#9c9c9c" stroke-width="0.9"/>
<line x1="396.80" y1="681.30" x2="396.80" y2="683.10" stroke="#9c9c9c" stroke-width="0.9"/>
<text x="0" y="0" transform="translate(396.80,690.30) scale(1,1.12)" font-size="6.3" text-anchor="middle" font-weight="normal" font-style="normal" fill="#3a3a3a" stroke="#3a3a3a" stroke-width="0.22" >48</text>
<line x1="420.18" y1="681.30" x2="420.18" y2="683.10" stroke="#9c9c9c" stroke-width="0.9"/>
<line x1="443.55" y1="681.30" x2="443.55" y2="683.10" stroke="#9c9c9c" stroke-width="0.9"/>
<text x="0" y="0" transform="translate(443.55,690.30) scale(1,1.12)" font-size="6.3" text-anchor="middle" font-weight="normal" font-style="normal" fill="#3a3a3a" stroke="#3a3a3a" stroke-width="0.22" >72</text>
<line x1="466.93" y1="681.30" x2="466.93" y2="683.10" stroke="#9c9c9c" stroke-width="0.9"/>
<line x1="490.30" y1="681.30" x2="490.30" y2="683.10" stroke="#9c9c9c" stroke-width="0.9"/>
<text x="0" y="0" transform="translate(490.30,690.30) scale(1,1.12)" font-size="6.3" text-anchor="middle" font-weight="normal" font-style="normal" fill="#3a3a3a" stroke="#3a3a3a" stroke-width="0.22" >96</text>
<line x1="513.67" y1="681.30" x2="513.67" y2="683.10" stroke="#9c9c9c" stroke-width="0.9"/>
<text x="0" y="0" transform="translate(408.49,700.24) scale(1,1.12)" font-size="6.4" text-anchor="middle" font-weight="normal" font-style="normal" fill="#3a3a3a" stroke="#3a3a3a" stroke-width="0.22" >Months</text>
<path d="M303.60,527.80 L311.60,528.80 L316.40,529.30 L321.20,530.00 L327.00,530.80 L330.80,531.30 L335.70,531.90 L340.50,532.50 L343.30,533.20 L346.20,534.60 L352.00,535.80 L357.90,538.90 L364.10,540.20 L368.70,541.70 L375.00,543.10 L377.07,543.10 L377.07,544.37 L379.13,544.37 L379.13,545.63 L381.20,545.63 L381.20,546.90 L383.23,546.90 L383.23,547.83 L385.27,547.83 L385.27,548.77 L387.30,548.77 L387.30,549.70 L389.23,549.70 L389.23,550.23 L391.15,550.23 L391.15,550.75 L393.07,550.75 L393.07,551.27 L395.00,551.27 L395.00,551.80 L396.93,551.80 L396.93,552.05 L398.85,552.05 L398.85,552.30 L400.77,552.30 L400.77,552.55 L402.70,552.55 L402.70,552.80 L404.73,552.80 L404.73,553.30 L406.77,553.30 L406.77,553.80 L408.80,553.80 L408.80,554.30 L410.87,554.30 L410.87,555.17 L412.93,555.17 L412.93,556.03 L415.00,556.03 L415.00,556.90 L417.07,556.90 L417.07,557.67 L419.13,557.67 L419.13,558.43 L421.20,558.43 L421.20,559.20 L423.23,559.20 L423.23,560.23 L425.27,560.23 L425.27,561.27 L427.30,561.27 L427.30,562.30 L429.37,562.30 L429.37,562.93 L431.43,562.93 L431.43,563.57 L433.50,563.57 L433.50,564.20 L435.53,564.20 L435.53,564.57 L437.57,564.57 L437.57,564.93 L439.60,564.93 L439.60,565.30 L441.17,565.30 L441.17,565.70 L442.73,565.70 L442.73,566.10 L444.30,566.10 L444.30,566.50 L446.50,566.50 L446.50,567.60 L448.70,567.60 L448.70,568.70 L450.85,568.70 L450.85,569.55 L453.00,569.55 L453.00,570.40 L454.93,570.40 L454.93,570.53 L456.87,570.53 L456.87,570.67 L458.80,570.67 L458.80,570.80 L460.95,570.80 L460.95,571.90 L463.10,571.90 L463.10,573.00 L465.25,573.00 L465.25,574.05 L467.40,574.05 L467.40,575.10 L469.55,575.10 L469.55,576.05 L471.70,576.05 L471.70,577.00 L472.80,577.00 L472.80,578.95 L473.90,578.95 L473.90,580.90 L474.25,580.90 L474.25,582.35 L474.60,582.35 L474.60,583.80 L476.75,583.80 L476.75,584.30 L478.90,584.30 L478.90,584.80 L480.40,584.80 L480.40,587.10 L513.60,587.10" fill="none" stroke="#4242a6" stroke-width="1.25" stroke-linejoin="miter"/>
<path d="M303.60,527.80 L304.90,527.90 L307.80,529.30 L311.60,531.70 L315.50,533.70 L319.30,534.60 L323.20,535.10 L327.00,536.10 L330.80,537.00 L333.70,538.50 L336.60,539.90 L340.50,540.40 L343.30,540.90 L345.30,542.30 L348.20,543.80 L352.00,545.70 L357.90,546.60 L360.20,548.90 L362.50,552.00 L365.60,555.10 L368.70,558.20 L373.30,560.50 L374.85,560.50 L374.85,561.40 L376.40,561.40 L376.40,562.30 L378.00,562.30 L378.00,563.23 L379.60,563.23 L379.60,564.17 L381.20,564.17 L381.20,565.10 L383.23,565.10 L383.23,566.23 L385.27,566.23 L385.27,567.37 L387.30,567.37 L387.30,568.50 L389.37,568.50 L389.37,569.50 L391.43,569.50 L391.43,570.50 L393.50,570.50 L393.50,571.50 L395.43,571.50 L395.43,572.20 L397.35,572.20 L397.35,572.90 L399.27,572.90 L399.27,573.60 L401.20,573.60 L401.20,574.30 L403.10,574.30 L403.10,575.15 L405.00,575.15 L405.00,576.00 L406.90,576.00 L406.90,576.85 L408.80,576.85 L408.80,577.70 L410.73,577.70 L410.73,578.48 L412.65,578.48 L412.65,579.25 L414.57,579.25 L414.57,580.02 L416.50,580.02 L416.50,580.80 L418.43,580.80 L418.43,580.97 L420.35,580.97 L420.35,581.15 L422.27,581.15 L422.27,581.33 L424.20,581.33 L424.20,581.50 L426.27,581.50 L426.27,582.27 L428.33,582.27 L428.33,583.03 L430.40,583.03 L430.40,583.80 L432.43,583.80 L432.43,584.73 L434.47,584.73 L434.47,585.67 L436.50,585.67 L436.50,586.60 L438.05,586.60 L438.05,587.90 L439.60,587.90 L439.60,589.20 L441.20,589.20 L441.20,590.50 L443.20,590.50 L443.20,590.80 L445.20,590.80 L445.20,591.10 L447.20,591.10 L447.20,591.40 L449.00,591.40 L449.00,591.85 L450.80,591.85 L450.80,592.30 L452.60,592.30 L452.60,592.75 L454.40,592.75 L454.40,593.20 L456.33,593.20 L456.33,594.63 L458.27,594.63 L458.27,596.07 L460.20,596.07 L460.20,597.50 L462.00,597.50 L462.00,597.54 L463.80,597.54 L463.80,597.58 L465.60,597.58 L465.60,597.61 L467.40,597.61 L467.40,597.65 L469.20,597.65 L469.20,597.69 L471.00,597.69 L471.00,597.72 L472.80,597.72 L472.80,597.76 L474.60,597.76 L474.60,597.80 L475.33,597.80 L475.33,599.37 L476.07,599.37 L476.07,600.93 L476.80,600.93 L476.80,602.50 L477.85,602.50 L477.85,604.35 L478.90,604.35 L478.90,606.20 L480.72,606.20 L480.72,606.38 L482.55,606.38 L482.55,606.55 L484.38,606.55 L484.38,606.73 L486.20,606.73 L486.20,606.90 L486.38,606.90 L486.38,608.70 L486.55,608.70 L486.55,610.50 L486.72,610.50 L486.72,612.30 L486.90,612.30 L486.90,614.10 L487.60,614.10 L487.60,615.55 L488.30,615.55 L488.30,617.00 L488.53,617.00 L488.53,618.67 L488.77,618.67 L488.77,620.33 L489.00,620.33 L489.00,622.00 L513.60,622.00" fill="none" stroke="#e6b84a" stroke-width="1.25" stroke-linejoin="miter"/>
<path d="M303.60,527.80 L304.90,527.90 L306.80,530.80 L308.70,534.10 L311.60,536.50 L314.50,538.50 L317.40,540.90 L320.30,543.30 L322.20,545.70 L324.10,548.60 L327.00,551.40 L329.90,554.30 L331.80,558.20 L333.70,561.10 L336.60,563.50 L340.50,564.90 L343.30,565.40 L345.30,567.80 L349.10,568.80 L352.00,569.70 L357.90,575.10 L362.50,578.90 L368.70,582.00 L373.30,585.10 L375.00,585.10 L375.00,586.90 L376.53,586.90 L376.53,587.93 L378.07,587.93 L378.07,588.97 L379.60,588.97 L379.60,590.00 L381.13,590.00 L381.13,590.77 L382.67,590.77 L382.67,591.53 L384.20,591.53 L384.20,592.30 L385.00,592.30 L385.00,594.25 L385.80,594.25 L385.80,596.20 L387.33,596.20 L387.33,596.43 L388.87,596.43 L388.87,596.67 L390.40,596.67 L390.40,596.90 L392.43,596.90 L392.43,597.43 L394.47,597.43 L394.47,597.97 L396.50,597.97 L396.50,598.50 L398.07,598.50 L398.07,599.50 L399.63,599.50 L399.63,600.50 L401.20,600.50 L401.20,601.50 L403.23,601.50 L403.23,602.80 L405.27,602.80 L405.27,604.10 L407.30,604.10 L407.30,605.40 L408.83,605.40 L408.83,606.33 L410.37,606.33 L410.37,607.27 L411.90,607.27 L411.90,608.20 L413.97,608.20 L413.97,608.70 L416.03,608.70 L416.03,609.20 L418.10,609.20 L418.10,609.70 L419.65,609.70 L419.65,611.40 L421.20,611.40 L421.20,613.10 L422.70,613.10 L422.70,614.00 L424.20,614.00 L424.20,614.90 L426.06,614.90 L426.06,615.16 L427.92,615.16 L427.92,615.42 L429.78,615.42 L429.78,615.68 L431.64,615.68 L431.64,615.94 L433.50,615.94 L433.50,616.20 L435.00,616.20 L435.00,616.55 L436.50,616.55 L436.50,616.90 L437.27,616.90 L437.27,618.62 L438.05,618.62 L438.05,620.35 L438.83,620.35 L438.83,622.07 L439.60,622.07 L439.60,623.80 L441.67,623.80 L441.67,624.33 L443.73,624.33 L443.73,624.87 L445.80,624.87 L445.80,625.40 L447.30,625.40 L447.30,627.50 L449.07,627.50 L449.07,627.58 L450.85,627.58 L450.85,627.65 L452.62,627.65 L452.62,627.72 L454.40,627.72 L454.40,627.80 L454.40,631.80 L475.30,631.80 L475.30,640.50 L495.50,640.50" fill="none" stroke="#c63c46" stroke-width="1.25" stroke-linejoin="miter"/>
<text x="0" y="0" transform="translate(450.80,592.78) scale(1,1.12)" font-size="6.0" text-anchor="start" font-weight="normal" font-style="normal" fill="#4848a8" stroke="#4848a8" stroke-width="0.12" >HR.FISH.B/ISS. = LR</text>
<text x="0" y="0" transform="translate(455.60,628.78) scale(1,1.12)" font-size="6.0" text-anchor="start" font-weight="normal" font-style="normal" fill="#e6bc5c" stroke="#e6bc5c" stroke-width="0.12" >HR.FISH.B/ISS = IR</text>
<text x="0" y="0" transform="translate(450.80,652.98) scale(1,1.12)" font-size="6.0" text-anchor="start" font-weight="normal" font-style="normal" fill="#c84450" stroke="#c84450" stroke-width="0.12" >HR.FISH.B/ISS. = HR</text>
<line x1="292.30" y1="706.20" x2="514.60" y2="706.20" stroke="#6e6e6e" stroke-width="1"/>
<line x1="292.30" y1="717.70" x2="514.60" y2="717.70" stroke="#9a9a9a" stroke-width="1"/>
<line x1="292.30" y1="751.00" x2="514.60" y2="751.00" stroke="#9a9a9a" stroke-width="1"/>
<line x1="292.30" y1="762.50" x2="514.60" y2="762.50" stroke="#6e6e6e" stroke-width="1"/>
<text x="0" y="0" transform="translate(340.20,713.78) scale(1,1.12)" font-size="6.5" text-anchor="start" font-weight="bold" font-style="normal" fill="#111" stroke="#111" stroke-width="0.12" >Hazard ratio</text>
<text x="0" y="0" transform="translate(403.80,713.78) scale(1,1.12)" font-size="6.5" text-anchor="middle" font-weight="bold" font-style="normal" fill="#111" stroke="#111" stroke-width="0.12" >95%CI</text>
<text x="0" y="0" transform="translate(447.30,712.48) scale(1,1.12)" font-size="6.5" text-anchor="middle" font-weight="bold" font-style="italic" fill="#111" stroke="#111" stroke-width="0.12" >p</text>
<text x="0" y="0" transform="translate(492.00,713.78) scale(1,1.12)" font-size="6.5" text-anchor="middle" font-weight="bold" font-style="normal" fill="#111" stroke="#111" stroke-width="0.12" >Proportion</text>
<text x="0" y="0" transform="translate(334.00,725.48) scale(1,1.12)" font-size="6.5" text-anchor="end" font-weight="bold" font-style="normal" fill="#111" stroke="#111" stroke-width="0.14" >Low</text>
<circle cx="343.70" cy="723.20" r="1.15" fill="#4242a6"/>
<text x="0" y="0" transform="translate(359.00,725.48) scale(1,1.12)" font-size="6.5" text-anchor="middle" font-weight="normal" font-style="normal" fill="#222" stroke="#222" stroke-width="0.2" >1</text>
<text x="0" y="0" transform="translate(492.00,725.48) scale(1,1.12)" font-size="6.5" text-anchor="middle" font-weight="normal" font-style="normal" fill="#222" stroke="#222" stroke-width="0.2" >57%</text>
<text x="0" y="0" transform="translate(334.00,736.78) scale(1,1.12)" font-size="6.5" text-anchor="end" font-weight="bold" font-style="normal" fill="#111" stroke="#111" stroke-width="0.14" >Intermediate</text>
<circle cx="343.70" cy="734.50" r="1.15" fill="#e6b84a"/>
<text x="0" y="0" transform="translate(359.00,736.78) scale(1,1.12)" font-size="6.5" text-anchor="middle" font-weight="normal" font-style="normal" fill="#222" stroke="#222" stroke-width="0.2" >1.8</text>
<text x="0" y="0" transform="translate(403.80,736.78) scale(1,1.12)" font-size="6.5" text-anchor="middle" font-weight="normal" font-style="normal" fill="#222" stroke="#222" stroke-width="0.2" >( 1.4 − 2.4 )</text>
<text x="0" y="0" transform="translate(447.30,736.78) scale(1,1.12)" font-size="6.5" text-anchor="middle" font-weight="normal" font-style="normal" fill="#222" stroke="#222" stroke-width="0.2" >2.1e−05</text>
<text x="0" y="0" transform="translate(492.00,736.78) scale(1,1.12)" font-size="6.5" text-anchor="middle" font-weight="normal" font-style="normal" fill="#222" stroke="#222" stroke-width="0.2" >26%</text>
<text x="0" y="0" transform="translate(334.00,747.98) scale(1,1.12)" font-size="6.5" text-anchor="end" font-weight="bold" font-style="normal" fill="#111" stroke="#111" stroke-width="0.14" >High</text>
<circle cx="343.70" cy="745.70" r="1.15" fill="#c63c46"/>
<text x="0" y="0" transform="translate(359.00,747.98) scale(1,1.12)" font-size="6.5" text-anchor="middle" font-weight="normal" font-style="normal" fill="#222" stroke="#222" stroke-width="0.2" >3.6</text>
<text x="0" y="0" transform="translate(403.80,747.98) scale(1,1.12)" font-size="6.5" text-anchor="middle" font-weight="normal" font-style="normal" fill="#222" stroke="#222" stroke-width="0.2" >( 2.7 − 4.7 )</text>
<text x="0" y="0" transform="translate(447.30,747.98) scale(1,1.12)" font-size="6.5" text-anchor="middle" font-weight="normal" font-style="normal" fill="#222" stroke="#222" stroke-width="0.2" >. ≤ 1e−15</text>
<text x="0" y="0" transform="translate(492.00,747.98) scale(1,1.12)" font-size="6.5" text-anchor="middle" font-weight="normal" font-style="normal" fill="#222" stroke="#222" stroke-width="0.2" >17%</text>
<text x="0" y="0" transform="translate(403.45,759.74) scale(1,1.12)" font-size="6.4" text-anchor="middle" font-weight="normal" font-style="normal" fill="#222" stroke="#222" stroke-width="0.2" >Likelihood ratio test ≤ 1e−15, n : 850, number of events : 309</text>
</svg>
</body></html>
